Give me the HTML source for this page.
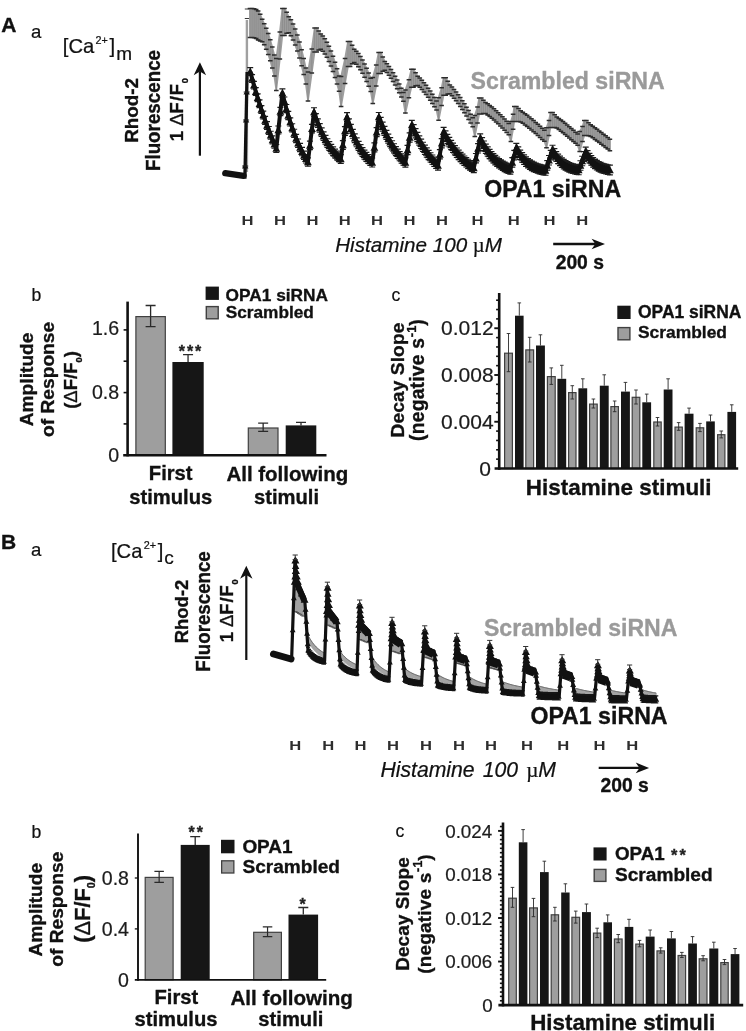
<!DOCTYPE html>
<html lang="en"><head><meta charset="utf-8"><title>Figure</title>
<style>html,body{margin:0;padding:0;background:#fff}svg{display:block;font-family:'Liberation Sans', sans-serif;filter:blur(0.62px)}</style>
</head><body>
<svg width="746" height="1031" viewBox="0 0 746 1031">
<rect width="746" height="1031" fill="#fff"/>
<g id="panelA">
<path d="M246.9 172V20" stroke="#a0a0a0" stroke-width="2.4" fill="none"/>
<path d="M244.8 18.5H249.4 M244.8 9H250" stroke="#3a3a3a" stroke-width="1.2" fill="none"/>
<polygon points="250,8.5 252.1,8.5 254.12,8.72 256.13,9.5 258.15,10.94 260.17,14.26 262.18,19.19 264.2,23.71 266.22,28.23 268.23,33.61 270.25,39.85 272.27,46.98 274.28,55.03 276.3,58.5 279.85,32.12 282.4,8.5 284.5,8.5 286.64,12.29 288.77,16.75 290.91,19.83 293.05,23.93 295.18,29 297.32,35.02 299.45,41.95 301.59,49.78 303.73,58.5 305.86,68.07 308,72 311.8,48.92 314.6,28 316.7,28 318.73,30.88 320.77,34.11 322.8,36.1 324.83,38.79 326.87,42.16 328.9,46.2 330.93,50.89 332.97,56.24 335,62.21 337.03,68.82 339.07,76.05 341.1,76.5 345.05,58.38 348,41.5 350.1,41.5 352.16,45.29 354.23,49.25 356.29,51.16 358.35,53.62 360.42,56.58 362.48,60.04 364.55,63.95 366.61,68.31 368.67,73.09 370.74,78.29 372.8,77.5 376.2,64.88 378.6,52.5 380.7,52.5 382.76,56.9 384.82,61.47 386.88,63.76 388.93,66.43 390.99,69.42 393.05,72.69 395.11,76.22 397.17,79.99 399.23,83.97 401.28,88.16 403.34,92.54 405.4,90 408.9,79.74 411.4,69.3 413.5,69.3 415.59,72.67 417.68,76.2 419.78,78.11 421.87,80.29 423.96,82.71 426.05,85.33 428.14,88.14 430.23,91.1 432.33,94.22 434.42,97.48 436.51,100.88 438.6,97.7 441.6,87.83 443.6,77.7 445.7,77.7 447.78,81.24 449.86,84.96 451.94,87.04 454.01,89.38 456.09,91.94 458.17,94.68 460.25,97.6 462.33,100.66 464.41,103.85 466.49,107.18 468.56,110.62 470.64,114.18 472.72,117.84 474.8,115.5 477.5,107 479.2,98 481.3,98 483.41,100.14 485.53,102.42 487.64,103.83 489.76,105.38 491.87,107.06 493.99,108.84 496.1,110.72 498.21,112.67 500.33,114.7 502.44,116.8 504.56,118.96 506.67,121.19 508.79,123.47 510.9,121.4 513.1,114.33 514.3,106.5 516.4,106.5 518.55,108.55 520.7,110.7 522.85,112.15 525,113.69 527.15,115.32 529.3,117.01 531.45,118.76 533.6,120.56 535.75,122.41 537.9,124.29 540.05,126.22 542.2,128.18 544.35,130.17 546.5,127.8 549,120.51 550.5,112.5 552.6,112.5 554.68,114.67 556.77,116.9 558.85,118.38 560.94,119.94 563.02,121.57 565.11,123.24 567.19,124.95 569.28,126.7 571.36,128.49 573.45,130.3 575.53,132.14 577.62,134.01 579.7,131.5 582.5,126.57 584.3,120.5 586.4,120.5 588.54,122.65 590.67,124.81 592.81,126.27 594.95,127.79 597.08,129.34 599.22,130.93 601.35,132.54 603.49,134.18 605.63,135.83 607.76,137.51 609.9,139.2 609.9,150.8 607.76,149.11 605.63,147.43 603.49,145.78 601.35,144.14 599.22,142.53 597.08,140.94 594.95,139.39 592.81,137.87 590.67,136.41 588.54,135.78 586.4,135.5 584.3,135.5 582.5,141.57 579.7,151.5 577.62,145.21 575.53,143.34 573.45,141.5 571.36,139.69 569.28,137.9 567.19,136.15 565.11,134.44 563.02,132.77 560.94,131.14 558.85,129.58 556.77,128.1 554.68,127.58 552.6,127.5 550.5,127.5 549,135.51 546.5,147.8 544.35,141.37 542.2,139.38 540.05,137.42 537.9,135.49 535.75,133.61 533.6,131.76 531.45,129.96 529.3,128.21 527.15,126.52 525,124.89 522.85,123.35 520.7,121.9 518.55,121.46 516.4,121.5 514.3,121.5 513.1,129.33 510.9,141.4 508.79,134.67 506.67,132.39 504.56,130.16 502.44,128 500.33,125.9 498.21,123.87 496.1,121.92 493.99,120.04 491.87,118.26 489.76,116.58 487.64,115.03 485.53,113.62 483.41,113.5 481.3,114 479.2,114 477.5,123 474.8,136.5 472.72,126.64 470.64,122.98 468.56,119.42 466.49,115.98 464.41,112.65 462.33,109.46 460.25,106.4 458.17,103.48 456.09,100.74 454.01,98.18 451.94,95.84 449.86,93.76 447.78,94 445.7,95.3 443.6,95.3 441.6,105.42 438.6,120.3 436.51,110.08 434.42,106.68 432.33,103.42 430.23,100.3 428.14,97.34 426.05,94.53 423.96,91.91 421.87,89.49 419.78,87.31 417.68,85.4 415.59,85.83 413.5,87.3 411.4,87.3 408.9,97.74 405.4,113 403.34,101.34 401.28,96.96 399.23,92.77 397.17,88.79 395.11,85.02 393.05,81.49 390.99,78.22 388.93,75.23 386.88,72.56 384.82,70.27 382.76,71.19 380.7,73.5 378.6,73.5 376.2,85.88 372.8,103.5 370.74,91.49 368.67,86.29 366.61,81.51 364.55,77.15 362.48,73.24 360.42,69.78 358.35,66.82 356.29,64.36 354.23,62.45 352.16,63.8 350.1,66.5 348,66.5 345.05,83.38 341.1,106.5 339.07,91.25 337.03,84.02 335,77.41 332.97,71.44 330.93,66.09 328.9,61.4 326.87,57.36 324.83,53.99 322.8,51.3 320.77,49.31 318.73,50.04 316.7,52 314.6,52 311.8,72.92 308,101 305.86,84.07 303.73,74.5 301.59,65.78 299.45,57.95 297.32,51.02 295.18,45 293.05,39.93 290.91,35.83 288.77,32.75 286.64,33.24 284.5,35.5 282.4,35.5 279.85,59.12 276.3,90.5 274.28,76.03 272.27,67.98 270.25,60.85 268.23,54.61 266.22,49.23 264.2,44.71 262.18,41.82 260.17,40.93 258.15,39.94 256.13,38.5 254.12,37.72 252.1,37.5 250,37.5" fill="#9e9e9e" stroke="#9e9e9e" stroke-width="1.6" stroke-linejoin="round"/>
<path d="M250 8.5V37.5M252.1 8.5V37.5M254.12 8.72V37.72M256.13 9.5V38.5M258.15 10.94V39.94M260.17 14.26V40.93M262.18 19.19V41.82M264.2 23.71V44.71M266.22 28.23V49.23M268.23 33.61V54.61M270.25 39.85V60.85M272.27 46.98V67.98M274.28 55.03V76.03M276.3 58.5V90.5M279.85 32.12V59.12M282.4 8.5V35.5M284.5 8.5V35.5M286.64 12.29V33.24M288.77 16.75V32.75M290.91 19.83V35.83M293.05 23.93V39.93M295.18 29V45M297.32 35.02V51.02M299.45 41.95V57.95M301.59 49.78V65.78M303.73 58.5V74.5M305.86 68.07V84.07M308 72V101M311.8 48.92V72.92M314.6 28V52M316.7 28V52M318.73 30.88V50.04M320.77 34.11V49.31M322.8 36.1V51.3M324.83 38.79V53.99M326.87 42.16V57.36M328.9 46.2V61.4M330.93 50.89V66.09M332.97 56.24V71.44M335 62.21V77.41M337.03 68.82V84.02M339.07 76.05V91.25M341.1 76.5V106.5M345.05 58.38V83.38M348 41.5V66.5M350.1 41.5V66.5M352.16 45.29V63.8M354.23 49.25V62.45M356.29 51.16V64.36M358.35 53.62V66.82M360.42 56.58V69.78M362.48 60.04V73.24M364.55 63.95V77.15M366.61 68.31V81.51M368.67 73.09V86.29M370.74 78.29V91.49M372.8 77.5V103.5M376.2 64.88V85.88M378.6 52.5V73.5M380.7 52.5V73.5M382.76 56.9V71.19M384.82 61.47V70.27M386.88 63.76V72.56M388.93 66.43V75.23M390.99 69.42V78.22M393.05 72.69V81.49M395.11 76.22V85.02M397.17 79.99V88.79M399.23 83.97V92.77M401.28 88.16V96.96M403.34 92.54V101.34M405.4 90V113M408.9 79.74V97.74M411.4 69.3V87.3M413.5 69.3V87.3M415.59 72.67V85.83M417.68 76.2V85.4M419.78 78.11V87.31M421.87 80.29V89.49M423.96 82.71V91.91M426.05 85.33V94.53M428.14 88.14V97.34M430.23 91.1V100.3M432.33 94.22V103.42M434.42 97.48V106.68M436.51 100.88V110.08M438.6 97.7V120.3M441.6 87.83V105.42M443.6 77.7V95.3M445.7 77.7V95.3M447.78 81.24V94M449.86 84.96V93.76M451.94 87.04V95.84M454.01 89.38V98.18M456.09 91.94V100.74M458.17 94.68V103.48M460.25 97.6V106.4M462.33 100.66V109.46M464.41 103.85V112.65M466.49 107.18V115.98M468.56 110.62V119.42M470.64 114.18V122.98M472.72 117.84V126.64M474.8 115.5V136.5M477.5 107V123M479.2 98V114M481.3 98V114M483.41 100.14V113.5M485.53 102.42V113.62M487.64 103.83V115.03M489.76 105.38V116.58M491.87 107.06V118.26M493.99 108.84V120.04M496.1 110.72V121.92M498.21 112.67V123.87M500.33 114.7V125.9M502.44 116.8V128M504.56 118.96V130.16M506.67 121.19V132.39M508.79 123.47V134.67M510.9 121.4V141.4M513.1 114.33V129.33M514.3 106.5V121.5M516.4 106.5V121.5M518.55 108.55V121.46M520.7 110.7V121.9M522.85 112.15V123.35M525 113.69V124.89M527.15 115.32V126.52M529.3 117.01V128.21M531.45 118.76V129.96M533.6 120.56V131.76M535.75 122.41V133.61M537.9 124.29V135.49M540.05 126.22V137.42M542.2 128.18V139.38M544.35 130.17V141.37M546.5 127.8V147.8M549 120.51V135.51M550.5 112.5V127.5M552.6 112.5V127.5M554.68 114.67V127.58M556.77 116.9V128.1M558.85 118.38V129.58M560.94 119.94V131.14M563.02 121.57V132.77M565.11 123.24V134.44M567.19 124.95V136.15M569.28 126.7V137.9M571.36 128.49V139.69M573.45 130.3V141.5M575.53 132.14V143.34M577.62 134.01V145.21M579.7 131.5V151.5M582.5 126.57V141.57M584.3 120.5V135.5M586.4 120.5V135.5M588.54 122.65V135.78M590.67 124.81V136.41M592.81 126.27V137.87M594.95 127.79V139.39M597.08 129.34V140.94M599.22 130.93V142.53M601.35 132.54V144.14M603.49 134.18V145.78M605.63 135.83V147.43M607.76 137.51V149.11M609.9 139.2V150.8" stroke="#8e8e8e" stroke-width="1.1" fill="none"/>
<path d="M247.7 8.5H252.3 M247.7 37.5H252.3M249.8 8.5H254.4 M249.8 37.5H254.4M251.82 8.72H256.42 M251.82 37.72H256.42M253.83 9.5H258.43 M253.83 38.5H258.43M255.85 10.94H260.45 M255.85 39.94H260.45M257.87 14.26H262.47 M257.87 40.93H262.47M259.88 19.19H264.48 M259.88 41.82H264.48M261.9 23.71H266.5 M261.9 44.71H266.5M263.92 28.23H268.52 M263.92 49.23H268.52M265.93 33.61H270.53 M265.93 54.61H270.53M267.95 39.85H272.55 M267.95 60.85H272.55M269.97 46.98H274.57 M269.97 67.98H274.57M271.98 55.03H276.58 M271.98 76.03H276.58M274 58.5H278.6 M274 90.5H278.6M277.55 32.12H282.15 M277.55 59.12H282.15M280.1 8.5H284.7 M280.1 35.5H284.7M282.2 8.5H286.8 M282.2 35.5H286.8M284.34 12.29H288.94 M284.34 33.24H288.94M286.47 16.75H291.07 M286.47 32.75H291.07M288.61 19.83H293.21 M288.61 35.83H293.21M290.75 23.93H295.35 M290.75 39.93H295.35M292.88 29H297.48 M292.88 45H297.48M295.02 35.02H299.62 M295.02 51.02H299.62M297.15 41.95H301.75 M297.15 57.95H301.75M299.29 49.78H303.89 M299.29 65.78H303.89M301.43 58.5H306.03 M301.43 74.5H306.03M303.56 68.07H308.16 M303.56 84.07H308.16M305.7 72H310.3 M305.7 101H310.3M309.5 48.92H314.1 M309.5 72.92H314.1M312.3 28H316.9 M312.3 52H316.9M314.4 28H319 M314.4 52H319M316.43 30.88H321.03 M316.43 50.04H321.03M318.47 34.11H323.07 M318.47 49.31H323.07M320.5 36.1H325.1 M320.5 51.3H325.1M322.53 38.79H327.13 M322.53 53.99H327.13M324.57 42.16H329.17 M324.57 57.36H329.17M326.6 46.2H331.2 M326.6 61.4H331.2M328.63 50.89H333.23 M328.63 66.09H333.23M330.67 56.24H335.27 M330.67 71.44H335.27M332.7 62.21H337.3 M332.7 77.41H337.3M334.73 68.82H339.33 M334.73 84.02H339.33M336.77 76.05H341.37 M336.77 91.25H341.37M338.8 76.5H343.4 M338.8 106.5H343.4M342.75 58.38H347.35 M342.75 83.38H347.35M345.7 41.5H350.3 M345.7 66.5H350.3M347.8 41.5H352.4 M347.8 66.5H352.4M349.86 45.29H354.46 M349.86 63.8H354.46M351.93 49.25H356.53 M351.93 62.45H356.53M353.99 51.16H358.59 M353.99 64.36H358.59M356.05 53.62H360.65 M356.05 66.82H360.65M358.12 56.58H362.72 M358.12 69.78H362.72M360.18 60.04H364.78 M360.18 73.24H364.78M362.25 63.95H366.85 M362.25 77.15H366.85M364.31 68.31H368.91 M364.31 81.51H368.91M366.37 73.09H370.97 M366.37 86.29H370.97M368.44 78.29H373.04 M368.44 91.49H373.04M370.5 77.5H375.1 M370.5 103.5H375.1M373.9 64.88H378.5 M373.9 85.88H378.5M376.3 52.5H380.9 M376.3 73.5H380.9M378.4 52.5H383 M378.4 73.5H383M380.46 56.9H385.06 M380.46 71.19H385.06M382.52 61.47H387.12 M382.52 70.27H387.12M384.58 63.76H389.18 M384.58 72.56H389.18M386.63 66.43H391.23 M386.63 75.23H391.23M388.69 69.42H393.29 M388.69 78.22H393.29M390.75 72.69H395.35 M390.75 81.49H395.35M392.81 76.22H397.41 M392.81 85.02H397.41M394.87 79.99H399.47 M394.87 88.79H399.47M396.93 83.97H401.53 M396.93 92.77H401.53M398.98 88.16H403.58 M398.98 96.96H403.58M401.04 92.54H405.64 M401.04 101.34H405.64M403.1 90H407.7 M403.1 113H407.7M406.6 79.74H411.2 M406.6 97.74H411.2M409.1 69.3H413.7 M409.1 87.3H413.7M411.2 69.3H415.8 M411.2 87.3H415.8M413.29 72.67H417.89 M413.29 85.83H417.89M415.38 76.2H419.98 M415.38 85.4H419.98M417.48 78.11H422.08 M417.48 87.31H422.08M419.57 80.29H424.17 M419.57 89.49H424.17M421.66 82.71H426.26 M421.66 91.91H426.26M423.75 85.33H428.35 M423.75 94.53H428.35M425.84 88.14H430.44 M425.84 97.34H430.44M427.93 91.1H432.53 M427.93 100.3H432.53M430.03 94.22H434.63 M430.03 103.42H434.63M432.12 97.48H436.72 M432.12 106.68H436.72M434.21 100.88H438.81 M434.21 110.08H438.81M436.3 97.7H440.9 M436.3 120.3H440.9M439.3 87.83H443.9 M439.3 105.42H443.9M441.3 77.7H445.9 M441.3 95.3H445.9M443.4 77.7H448 M443.4 95.3H448M445.48 81.24H450.08 M445.48 94H450.08M447.56 84.96H452.16 M447.56 93.76H452.16M449.64 87.04H454.24 M449.64 95.84H454.24M451.71 89.38H456.31 M451.71 98.18H456.31M453.79 91.94H458.39 M453.79 100.74H458.39M455.87 94.68H460.47 M455.87 103.48H460.47M457.95 97.6H462.55 M457.95 106.4H462.55M460.03 100.66H464.63 M460.03 109.46H464.63M462.11 103.85H466.71 M462.11 112.65H466.71M464.19 107.18H468.79 M464.19 115.98H468.79M466.26 110.62H470.86 M466.26 119.42H470.86M468.34 114.18H472.94 M468.34 122.98H472.94M470.42 117.84H475.02 M470.42 126.64H475.02M472.5 115.5H477.1 M472.5 136.5H477.1M475.2 107H479.8 M475.2 123H479.8M476.9 98H481.5 M476.9 114H481.5M479 98H483.6 M479 114H483.6M481.11 100.14H485.71 M481.11 113.5H485.71M483.23 102.42H487.83 M483.23 113.62H487.83M485.34 103.83H489.94 M485.34 115.03H489.94M487.46 105.38H492.06 M487.46 116.58H492.06M489.57 107.06H494.17 M489.57 118.26H494.17M491.69 108.84H496.29 M491.69 120.04H496.29M493.8 110.72H498.4 M493.8 121.92H498.4M495.91 112.67H500.51 M495.91 123.87H500.51M498.03 114.7H502.63 M498.03 125.9H502.63M500.14 116.8H504.74 M500.14 128H504.74M502.26 118.96H506.86 M502.26 130.16H506.86M504.37 121.19H508.97 M504.37 132.39H508.97M506.49 123.47H511.09 M506.49 134.67H511.09M508.6 121.4H513.2 M508.6 141.4H513.2M510.8 114.33H515.4 M510.8 129.33H515.4M512 106.5H516.6 M512 121.5H516.6M514.1 106.5H518.7 M514.1 121.5H518.7M516.25 108.55H520.85 M516.25 121.46H520.85M518.4 110.7H523 M518.4 121.9H523M520.55 112.15H525.15 M520.55 123.35H525.15M522.7 113.69H527.3 M522.7 124.89H527.3M524.85 115.32H529.45 M524.85 126.52H529.45M527 117.01H531.6 M527 128.21H531.6M529.15 118.76H533.75 M529.15 129.96H533.75M531.3 120.56H535.9 M531.3 131.76H535.9M533.45 122.41H538.05 M533.45 133.61H538.05M535.6 124.29H540.2 M535.6 135.49H540.2M537.75 126.22H542.35 M537.75 137.42H542.35M539.9 128.18H544.5 M539.9 139.38H544.5M542.05 130.17H546.65 M542.05 141.37H546.65M544.2 127.8H548.8 M544.2 147.8H548.8M546.7 120.51H551.3 M546.7 135.51H551.3M548.2 112.5H552.8 M548.2 127.5H552.8M550.3 112.5H554.9 M550.3 127.5H554.9M552.38 114.67H556.98 M552.38 127.58H556.98M554.47 116.9H559.07 M554.47 128.1H559.07M556.55 118.38H561.15 M556.55 129.58H561.15M558.64 119.94H563.24 M558.64 131.14H563.24M560.72 121.57H565.32 M560.72 132.77H565.32M562.81 123.24H567.41 M562.81 134.44H567.41M564.89 124.95H569.49 M564.89 136.15H569.49M566.98 126.7H571.58 M566.98 137.9H571.58M569.06 128.49H573.66 M569.06 139.69H573.66M571.15 130.3H575.75 M571.15 141.5H575.75M573.23 132.14H577.83 M573.23 143.34H577.83M575.32 134.01H579.92 M575.32 145.21H579.92M577.4 131.5H582 M577.4 151.5H582M580.2 126.57H584.8 M580.2 141.57H584.8M582 120.5H586.6 M582 135.5H586.6M584.1 120.5H588.7 M584.1 135.5H588.7M586.24 122.65H590.84 M586.24 135.78H590.84M588.37 124.81H592.97 M588.37 136.41H592.97M590.51 126.27H595.11 M590.51 137.87H595.11M592.65 127.79H597.25 M592.65 139.39H597.25M594.78 129.34H599.38 M594.78 140.94H599.38M596.92 130.93H601.52 M596.92 142.53H601.52M599.05 132.54H603.65 M599.05 144.14H603.65M601.19 134.18H605.79 M601.19 145.78H605.79M603.33 135.83H607.93 M603.33 147.43H607.93M605.46 137.51H610.06 M605.46 149.11H610.06M607.6 139.2H612.2 M607.6 150.8H612.2" stroke="#2c2c2c" stroke-width="1.5" fill="none"/>
<path d="M225.2 173.1L243.6 175.9" stroke="#111" stroke-width="6.2" fill="none" stroke-linecap="round"/>
<path d="M244.9 178.6L247.1 72" stroke="#111" stroke-width="3.3" fill="none"/>
<polygon points="250.2,67.67 252.06,74.6 253.93,81.28 255.79,87.7 257.66,93.89 259.52,99.85 261.39,105.59 263.25,111.12 265.11,116.44 266.98,121.57 268.84,126.51 270.71,131.26 272.57,135.84 274.44,140.25 276.3,144.5 278.33,125.98 280.37,107.47 282.4,88.95 284.36,97.02 286.32,104.49 288.28,111.41 290.25,117.81 292.21,123.74 294.17,129.23 296.13,134.31 298.09,139.01 300.05,143.37 302.02,147.4 303.98,151.13 305.94,154.58 307.9,157.78 309.93,141.1 311.97,124.42 314,107.74 315.91,113.53 317.83,118.78 319.74,123.56 321.66,127.91 323.57,131.87 325.49,135.46 327.4,138.73 329.31,141.7 331.23,144.4 333.14,146.85 335.06,149.08 336.97,151.11 338.89,152.95 340.8,154.62 342.87,140.61 344.93,126.61 347,112.6 348.94,118.82 350.88,124.39 352.82,129.38 354.75,133.85 356.69,137.86 358.63,141.45 360.57,144.66 362.51,147.54 364.45,150.12 366.38,152.43 368.32,154.49 370.26,156.35 372.2,158 374.4,142.83 376.6,127.65 378.8,112.48 380.7,117.43 382.6,122.05 384.5,126.34 386.4,130.34 388.3,134.06 390.2,137.53 392.1,140.75 394,143.75 395.9,146.55 397.8,149.15 399.7,151.57 401.6,153.83 403.5,155.94 405.4,157.89 407.53,145.39 409.67,132.89 411.8,120.39 413.67,124.65 415.54,128.65 417.41,132.39 419.29,135.9 421.16,139.18 423.03,142.26 424.9,145.15 426.77,147.86 428.64,150.39 430.51,152.77 432.39,154.99 434.26,157.08 436.13,159.03 438,160.86 439.87,149.7 441.73,138.53 443.6,127.36 445.49,130.96 447.38,134.31 449.26,137.45 451.15,140.37 453.04,143.09 454.93,145.64 456.81,148.01 458.7,150.22 460.59,152.28 462.48,154.21 464.36,156 466.25,157.68 468.14,159.24 470.03,160.7 471.91,162.06 473.8,163.33 475.93,153.49 478.07,143.66 480.2,133.82 482.08,137.6 483.96,141.01 485.84,144.08 487.73,146.84 489.61,149.33 491.49,151.57 493.37,153.6 495.25,155.42 497.13,157.06 499.01,158.54 500.89,159.87 502.77,161.07 504.66,162.15 506.54,163.13 508.42,164 510.3,164.79 512.3,157.63 514.3,150.46 516.3,143.29 518.25,146.93 520.19,150.03 522.14,152.68 524.09,154.93 526.03,156.86 527.98,158.51 529.93,159.91 531.87,161.1 533.82,162.12 535.77,162.99 537.71,163.74 539.66,164.37 541.61,164.91 543.55,165.37 545.5,165.76 547.25,160.63 549,155.51 550.75,150.38 552.5,145.25 554.37,148.7 556.24,151.61 558.11,154.06 559.99,156.12 561.86,157.87 563.73,159.34 565.6,160.58 567.47,161.63 569.34,162.51 571.21,163.25 573.09,163.88 574.96,164.41 576.83,164.85 578.7,165.23 580.45,160.73 582.2,156.23 583.95,151.72 585.7,147.22 587.56,150.54 589.42,153.3 591.28,155.6 593.15,157.52 595.01,159.11 596.87,160.44 598.73,161.54 600.59,162.46 602.45,163.23 604.32,163.86 606.18,164.39 608.04,164.83 609.9,165.2 609.9,174.8 608.04,174.43 606.18,173.99 604.32,173.45 602.45,172.81 600.59,172.04 598.73,171.12 596.87,170.01 595.01,168.68 593.15,167.08 591.28,165.17 589.42,162.86 587.56,160.1 585.7,156.78 583.95,161.28 582.2,165.77 580.45,170.27 578.7,174.77 576.83,174.39 574.96,173.94 573.09,173.41 571.21,172.78 569.34,172.03 567.47,171.14 565.6,170.09 563.73,168.85 561.86,167.38 559.99,165.63 558.11,163.56 556.24,161.1 554.37,158.19 552.5,154.75 550.75,159.87 549,164.99 547.25,170.12 545.5,175.24 543.55,174.84 541.61,174.38 539.66,173.83 537.71,173.2 535.77,172.45 533.82,171.58 531.87,170.55 529.93,169.35 527.98,167.95 526.03,166.3 524.09,164.37 522.14,162.11 520.19,159.46 518.25,156.35 516.3,152.71 514.3,159.88 512.3,167.04 510.3,174.21 508.42,173.41 506.54,172.53 504.66,171.55 502.77,170.47 500.89,169.26 499.01,167.93 497.13,166.44 495.25,164.8 493.37,162.97 491.49,160.95 489.61,158.7 487.73,156.21 485.84,153.44 483.96,150.37 482.08,146.96 480.2,143.18 478.07,153.01 475.93,162.84 473.8,172.67 471.91,171.4 470.03,170.03 468.14,168.57 466.25,167.01 464.36,165.33 462.48,163.53 460.59,161.6 458.7,159.53 456.81,157.32 454.93,154.94 453.04,152.39 451.15,149.66 449.26,146.74 447.38,143.6 445.49,140.24 443.6,136.64 441.73,147.81 439.87,158.97 438,170.14 436.13,168.3 434.26,166.34 432.39,164.25 430.51,162.02 428.64,159.65 426.77,157.11 424.9,154.4 423.03,151.51 421.16,148.42 419.29,145.13 417.41,141.62 415.54,137.88 413.67,133.88 411.8,129.61 409.67,142.11 407.53,154.61 405.4,167.11 403.5,165.14 401.6,163.04 399.7,160.77 397.8,158.33 395.9,155.72 394,152.91 392.1,149.89 390.2,146.65 388.3,143.17 386.4,139.44 384.5,135.43 382.6,131.12 380.7,126.49 378.8,121.52 376.6,136.68 374.4,151.84 372.2,167 370.26,165.32 368.32,163.46 366.38,161.37 364.45,159.05 362.51,156.46 360.57,153.56 358.63,150.34 356.69,146.73 354.75,142.71 352.82,138.23 350.88,133.22 348.94,127.64 347,121.4 344.93,135.39 342.87,149.39 340.8,163.38 338.89,161.69 336.97,159.83 335.06,157.79 333.14,155.55 331.23,153.08 329.31,150.37 327.4,147.38 325.49,144.1 323.57,140.49 321.66,136.52 319.74,132.16 317.83,127.35 315.91,122.07 314,116.26 311.97,132.91 309.93,149.57 307.9,166.22 305.94,162.99 303.98,159.51 302.02,155.76 300.05,151.7 298.09,147.32 296.13,142.59 294.17,137.48 292.21,131.96 290.25,126.01 288.28,119.58 286.32,112.64 284.36,105.14 282.4,97.05 280.37,115.53 278.33,134.02 276.3,152.5 274.44,148.23 272.57,143.8 270.71,139.2 268.84,134.42 266.98,129.45 265.11,124.3 263.25,118.95 261.39,113.4 259.52,107.63 257.66,101.65 255.79,95.43 253.93,88.98 252.06,82.28 250.2,75.33" fill="#161616" stroke="#161616" stroke-width="0.8" stroke-linejoin="round"/>
<path d="M247.2 67.67H253.2 M247.2 75.33H253.2M249.06 74.6H255.06 M249.06 82.28H255.06M250.93 81.28H256.93 M250.93 88.98H256.93M252.79 87.7H258.79 M252.79 95.43H258.79M254.66 93.89H260.66 M254.66 101.65H260.66M256.52 99.85H262.52 M256.52 107.63H262.52M258.39 105.59H264.39 M258.39 113.4H264.39M260.25 111.12H266.25 M260.25 118.95H266.25M262.11 116.44H268.11 M262.11 124.3H268.11M263.98 121.57H269.98 M263.98 129.45H269.98M265.84 126.51H271.84 M265.84 134.42H271.84M267.71 131.26H273.71 M267.71 139.2H273.71M269.57 135.84H275.57 M269.57 143.8H275.57M271.44 140.25H277.44 M271.44 148.23H277.44M273.3 144.5H279.3 M273.3 152.5H279.3M275.33 125.98H281.33 M275.33 134.02H281.33M277.37 107.47H283.37 M277.37 115.53H283.37M279.4 88.95H285.4 M279.4 97.05H285.4M281.36 97.02H287.36 M281.36 105.14H287.36M283.32 104.49H289.32 M283.32 112.64H289.32M285.28 111.41H291.28 M285.28 119.58H291.28M287.25 117.81H293.25 M287.25 126.01H293.25M289.21 123.74H295.21 M289.21 131.96H295.21M291.17 129.23H297.17 M291.17 137.48H297.17M293.13 134.31H299.13 M293.13 142.59H299.13M295.09 139.01H301.09 M295.09 147.32H301.09M297.05 143.37H303.05 M297.05 151.7H303.05M299.02 147.4H305.02 M299.02 155.76H305.02M300.98 151.13H306.98 M300.98 159.51H306.98M302.94 154.58H308.94 M302.94 162.99H308.94M304.9 157.78H310.9 M304.9 166.22H310.9M306.93 141.1H312.93 M306.93 149.57H312.93M308.97 124.42H314.97 M308.97 132.91H314.97M311 107.74H317 M311 116.26H317M312.91 113.53H318.91 M312.91 122.07H318.91M314.83 118.78H320.83 M314.83 127.35H320.83M316.74 123.56H322.74 M316.74 132.16H322.74M318.66 127.91H324.66 M318.66 136.52H324.66M320.57 131.87H326.57 M320.57 140.49H326.57M322.49 135.46H328.49 M322.49 144.1H328.49M324.4 138.73H330.4 M324.4 147.38H330.4M326.31 141.7H332.31 M326.31 150.37H332.31M328.23 144.4H334.23 M328.23 153.08H334.23M330.14 146.85H336.14 M330.14 155.55H336.14M332.06 149.08H338.06 M332.06 157.79H338.06M333.97 151.11H339.97 M333.97 159.83H339.97M335.89 152.95H341.89 M335.89 161.69H341.89M337.8 154.62H343.8 M337.8 163.38H343.8M339.87 140.61H345.87 M339.87 149.39H345.87M341.93 126.61H347.93 M341.93 135.39H347.93M344 112.6H350 M344 121.4H350M345.94 118.82H351.94 M345.94 127.64H351.94M347.88 124.39H353.88 M347.88 133.22H353.88M349.82 129.38H355.82 M349.82 138.23H355.82M351.75 133.85H357.75 M351.75 142.71H357.75M353.69 137.86H359.69 M353.69 146.73H359.69M355.63 141.45H361.63 M355.63 150.34H361.63M357.57 144.66H363.57 M357.57 153.56H363.57M359.51 147.54H365.51 M359.51 156.46H365.51M361.45 150.12H367.45 M361.45 159.05H367.45M363.38 152.43H369.38 M363.38 161.37H369.38M365.32 154.49H371.32 M365.32 163.46H371.32M367.26 156.35H373.26 M367.26 165.32H373.26M369.2 158H375.2 M369.2 167H375.2M371.4 142.83H377.4 M371.4 151.84H377.4M373.6 127.65H379.6 M373.6 136.68H379.6M375.8 112.48H381.8 M375.8 121.52H381.8M377.7 117.43H383.7 M377.7 126.49H383.7M379.6 122.05H385.6 M379.6 131.12H385.6M381.5 126.34H387.5 M381.5 135.43H387.5M383.4 130.34H389.4 M383.4 139.44H389.4M385.3 134.06H391.3 M385.3 143.17H391.3M387.2 137.53H393.2 M387.2 146.65H393.2M389.1 140.75H395.1 M389.1 149.89H395.1M391 143.75H397 M391 152.91H397M392.9 146.55H398.9 M392.9 155.72H398.9M394.8 149.15H400.8 M394.8 158.33H400.8M396.7 151.57H402.7 M396.7 160.77H402.7M398.6 153.83H404.6 M398.6 163.04H404.6M400.5 155.94H406.5 M400.5 165.14H406.5M402.4 157.89H408.4 M402.4 167.11H408.4M404.53 145.39H410.53 M404.53 154.61H410.53M406.67 132.89H412.67 M406.67 142.11H412.67M408.8 120.39H414.8 M408.8 129.61H414.8M410.67 124.65H416.67 M410.67 133.88H416.67M412.54 128.65H418.54 M412.54 137.88H418.54M414.41 132.39H420.41 M414.41 141.62H420.41M416.29 135.9H422.29 M416.29 145.13H422.29M418.16 139.18H424.16 M418.16 148.42H424.16M420.03 142.26H426.03 M420.03 151.51H426.03M421.9 145.15H427.9 M421.9 154.4H427.9M423.77 147.86H429.77 M423.77 157.11H429.77M425.64 150.39H431.64 M425.64 159.65H431.64M427.51 152.77H433.51 M427.51 162.02H433.51M429.39 154.99H435.39 M429.39 164.25H435.39M431.26 157.08H437.26 M431.26 166.34H437.26M433.13 159.03H439.13 M433.13 168.3H439.13M435 160.86H441 M435 170.14H441M436.87 149.7H442.87 M436.87 158.97H442.87M438.73 138.53H444.73 M438.73 147.81H444.73M440.6 127.36H446.6 M440.6 136.64H446.6M442.49 130.96H448.49 M442.49 140.24H448.49M444.38 134.31H450.38 M444.38 143.6H450.38M446.26 137.45H452.26 M446.26 146.74H452.26M448.15 140.37H454.15 M448.15 149.66H454.15M450.04 143.09H456.04 M450.04 152.39H456.04M451.93 145.64H457.93 M451.93 154.94H457.93M453.81 148.01H459.81 M453.81 157.32H459.81M455.7 150.22H461.7 M455.7 159.53H461.7M457.59 152.28H463.59 M457.59 161.6H463.59M459.48 154.21H465.48 M459.48 163.53H465.48M461.36 156H467.36 M461.36 165.33H467.36M463.25 157.68H469.25 M463.25 167.01H469.25M465.14 159.24H471.14 M465.14 168.57H471.14M467.03 160.7H473.03 M467.03 170.03H473.03M468.91 162.06H474.91 M468.91 171.4H474.91M470.8 163.33H476.8 M470.8 172.67H476.8M472.93 153.49H478.93 M472.93 162.84H478.93M475.07 143.66H481.07 M475.07 153.01H481.07M477.2 133.82H483.2 M477.2 143.18H483.2M479.08 137.6H485.08 M479.08 146.96H485.08M480.96 141.01H486.96 M480.96 150.37H486.96M482.84 144.08H488.84 M482.84 153.44H488.84M484.73 146.84H490.73 M484.73 156.21H490.73M486.61 149.33H492.61 M486.61 158.7H492.61M488.49 151.57H494.49 M488.49 160.95H494.49M490.37 153.6H496.37 M490.37 162.97H496.37M492.25 155.42H498.25 M492.25 164.8H498.25M494.13 157.06H500.13 M494.13 166.44H500.13M496.01 158.54H502.01 M496.01 167.93H502.01M497.89 159.87H503.89 M497.89 169.26H503.89M499.77 161.07H505.77 M499.77 170.47H505.77M501.66 162.15H507.66 M501.66 171.55H507.66M503.54 163.13H509.54 M503.54 172.53H509.54M505.42 164H511.42 M505.42 173.41H511.42M507.3 164.79H513.3 M507.3 174.21H513.3M509.3 157.63H515.3 M509.3 167.04H515.3M511.3 150.46H517.3 M511.3 159.88H517.3M513.3 143.29H519.3 M513.3 152.71H519.3M515.25 146.93H521.25 M515.25 156.35H521.25M517.19 150.03H523.19 M517.19 159.46H523.19M519.14 152.68H525.14 M519.14 162.11H525.14M521.09 154.93H527.09 M521.09 164.37H527.09M523.03 156.86H529.03 M523.03 166.3H529.03M524.98 158.51H530.98 M524.98 167.95H530.98M526.93 159.91H532.93 M526.93 169.35H532.93M528.87 161.1H534.87 M528.87 170.55H534.87M530.82 162.12H536.82 M530.82 171.58H536.82M532.77 162.99H538.77 M532.77 172.45H538.77M534.71 163.74H540.71 M534.71 173.2H540.71M536.66 164.37H542.66 M536.66 173.83H542.66M538.61 164.91H544.61 M538.61 174.38H544.61M540.55 165.37H546.55 M540.55 174.84H546.55M542.5 165.76H548.5 M542.5 175.24H548.5M544.25 160.63H550.25 M544.25 170.12H550.25M546 155.51H552 M546 164.99H552M547.75 150.38H553.75 M547.75 159.87H553.75M549.5 145.25H555.5 M549.5 154.75H555.5M551.37 148.7H557.37 M551.37 158.19H557.37M553.24 151.61H559.24 M553.24 161.1H559.24M555.11 154.06H561.11 M555.11 163.56H561.11M556.99 156.12H562.99 M556.99 165.63H562.99M558.86 157.87H564.86 M558.86 167.38H564.86M560.73 159.34H566.73 M560.73 168.85H566.73M562.6 160.58H568.6 M562.6 170.09H568.6M564.47 161.63H570.47 M564.47 171.14H570.47M566.34 162.51H572.34 M566.34 172.03H572.34M568.21 163.25H574.21 M568.21 172.78H574.21M570.09 163.88H576.09 M570.09 173.41H576.09M571.96 164.41H577.96 M571.96 173.94H577.96M573.83 164.85H579.83 M573.83 174.39H579.83M575.7 165.23H581.7 M575.7 174.77H581.7M577.45 160.73H583.45 M577.45 170.27H583.45M579.2 156.23H585.2 M579.2 165.77H585.2M580.95 151.72H586.95 M580.95 161.28H586.95M582.7 147.22H588.7 M582.7 156.78H588.7M584.56 150.54H590.56 M584.56 160.1H590.56M586.42 153.3H592.42 M586.42 162.86H592.42M588.28 155.6H594.28 M588.28 165.17H594.28M590.15 157.52H596.15 M590.15 167.08H596.15M592.01 159.11H598.01 M592.01 168.68H598.01M593.87 160.44H599.87 M593.87 170.01H599.87M595.73 161.54H601.73 M595.73 171.12H601.73M597.59 162.46H603.59 M597.59 172.04H603.59M599.45 163.23H605.45 M599.45 172.81H605.45M601.32 163.86H607.32 M601.32 173.45H607.32M603.18 164.39H609.18 M603.18 173.99H609.18M605.04 164.83H611.04 M605.04 174.43H611.04M606.9 165.2H612.9 M606.9 174.8H612.9" stroke="#1c1c1c" stroke-width="1.2" fill="none"/>
<path d="M250.2 71.5 L252.06 78.44 L253.93 85.13 L255.79 91.57 L257.66 97.77 L259.52 103.74 L261.39 109.5 L263.25 115.04 L265.11 120.37 L266.98 125.51 L268.84 130.46 L270.71 135.23 L272.57 139.82 L274.44 144.24 L276.3 148.5 L278.33 130 L280.37 111.5 L282.4 93 L284.36 101.08 L286.32 108.57 L288.28 115.49 L290.25 121.91 L292.21 127.85 L294.17 133.35 L296.13 138.45 L298.09 143.16 L300.05 147.53 L302.02 151.58 L303.98 155.32 L305.94 158.79 L307.9 162 L309.93 145.33 L311.97 128.67 L314 112 L315.91 117.8 L317.83 123.07 L319.74 127.86 L321.66 132.22 L323.57 136.18 L325.49 139.78 L327.4 143.06 L329.31 146.03 L331.23 148.74 L333.14 151.2 L335.06 153.44 L336.97 155.47 L338.89 157.32 L340.8 159 L342.87 145 L344.93 131 L347 117 L348.94 123.23 L350.88 128.81 L352.82 133.81 L354.75 138.28 L356.69 142.3 L358.63 145.89 L360.57 149.11 L362.51 152 L364.45 154.58 L366.38 156.9 L368.32 158.97 L370.26 160.83 L372.2 162.5 L374.4 147.33 L376.6 132.17 L378.8 117 L380.7 121.96 L382.6 126.58 L384.5 130.88 L386.4 134.89 L388.3 138.62 L390.2 142.09 L392.1 145.32 L394 148.33 L395.9 151.13 L397.8 153.74 L399.7 156.17 L401.6 158.43 L403.5 160.54 L405.4 162.5 L407.53 150 L409.67 137.5 L411.8 125 L413.67 129.26 L415.54 133.26 L417.41 137.01 L419.29 140.52 L421.16 143.8 L423.03 146.89 L424.9 149.77 L426.77 152.48 L428.64 155.02 L430.51 157.4 L432.39 159.62 L434.26 161.71 L436.13 163.67 L438 165.5 L439.87 154.33 L441.73 143.17 L443.6 132 L445.49 135.6 L447.38 138.96 L449.26 142.09 L451.15 145.02 L453.04 147.74 L454.93 150.29 L456.81 152.66 L458.7 154.88 L460.59 156.94 L462.48 158.87 L464.36 160.67 L466.25 162.34 L468.14 163.91 L470.03 165.37 L471.91 166.73 L473.8 168 L475.93 158.17 L478.07 148.33 L480.2 138.5 L482.08 142.28 L483.96 145.69 L485.84 148.76 L487.73 151.52 L489.61 154.02 L491.49 156.26 L493.37 158.29 L495.25 160.11 L497.13 161.75 L499.01 163.23 L500.89 164.57 L502.77 165.77 L504.66 166.85 L506.54 167.83 L508.42 168.71 L510.3 169.5 L512.3 162.33 L514.3 155.17 L516.3 148 L518.25 151.64 L520.19 154.74 L522.14 157.39 L524.09 159.65 L526.03 161.58 L527.98 163.23 L529.93 164.63 L531.87 165.83 L533.82 166.85 L535.77 167.72 L537.71 168.47 L539.66 169.1 L541.61 169.64 L543.55 170.11 L545.5 170.5 L547.25 165.38 L549 160.25 L550.75 155.12 L552.5 150 L554.37 153.45 L556.24 156.35 L558.11 158.81 L559.99 160.88 L561.86 162.62 L563.73 164.09 L565.6 165.34 L567.47 166.38 L569.34 167.27 L571.21 168.01 L573.09 168.64 L574.96 169.17 L576.83 169.62 L578.7 170 L580.45 165.5 L582.2 161 L583.95 156.5 L585.7 152 L587.56 155.32 L589.42 158.08 L591.28 160.38 L593.15 162.3 L595.01 163.9 L596.87 165.22 L598.73 166.33 L600.59 167.25 L602.45 168.02 L604.32 168.66 L606.18 169.19 L608.04 169.63 L609.9 170" stroke="#111" stroke-width="4" fill="none" stroke-linejoin="round"/>
<path d="M250.2 67.6L254.1 74.81L246.3 74.81ZM252.06 74.54L255.96 81.76L248.16 81.76ZM253.93 81.23L257.83 88.44L250.03 88.44ZM255.79 87.67L259.69 94.88L251.89 94.88ZM257.66 93.87L261.56 101.09L253.76 101.09ZM259.52 99.84L263.42 107.06L255.62 107.06ZM261.39 105.6L265.29 112.81L257.49 112.81ZM263.25 111.14L267.15 118.35L259.35 118.35ZM265.11 116.47L269.01 123.69L261.21 123.69ZM266.98 121.61L270.88 128.83L263.08 128.83ZM268.84 126.56L272.74 133.78L264.94 133.78ZM270.71 131.33L274.61 138.54L266.81 138.54ZM272.57 135.92L276.47 143.13L268.67 143.13ZM274.44 140.34L278.34 147.56L270.54 147.56ZM276.3 144.6L280.2 151.81L272.4 151.81ZM278.33 126.1L282.23 133.31L274.43 133.31ZM280.37 107.6L284.27 114.81L276.47 114.81ZM282.4 89.1L286.3 96.31L278.5 96.31ZM284.36 97.18L288.26 104.4L280.46 104.4ZM286.32 104.67L290.22 111.88L282.42 111.88ZM288.28 111.59L292.18 118.81L284.38 118.81ZM290.25 118.01L294.15 125.23L286.35 125.23ZM292.21 123.95L296.11 131.17L288.31 131.17ZM294.17 129.45L298.07 136.67L290.27 136.67ZM296.13 134.55L300.03 141.76L292.23 141.76ZM298.09 139.26L301.99 146.48L294.19 146.48ZM300.05 143.63L303.95 150.85L296.15 150.85ZM302.02 147.68L305.92 154.89L298.12 154.89ZM303.98 151.42L307.88 158.64L300.08 158.64ZM305.94 154.89L309.84 162.1L302.04 162.1ZM307.9 158.1L311.8 165.31L304 165.31ZM309.93 141.43L313.83 148.65L306.03 148.65ZM311.97 124.77L315.87 131.98L308.07 131.98ZM314 108.1L317.9 115.31L310.1 115.31ZM315.91 113.9L319.81 121.11L312.01 121.11ZM317.83 119.17L321.73 126.38L313.93 126.38ZM319.74 123.96L323.64 131.18L315.84 131.18ZM321.66 128.32L325.56 135.53L317.76 135.53ZM323.57 132.28L327.47 139.49L319.67 139.49ZM325.49 135.88L329.39 143.1L321.59 143.1ZM327.4 139.16L331.3 146.37L323.5 146.37ZM329.31 142.13L333.21 149.35L325.41 149.35ZM331.23 144.84L335.13 152.05L327.33 152.05ZM333.14 147.3L337.04 154.51L329.24 154.51ZM335.06 149.54L338.96 156.75L331.16 156.75ZM336.97 151.57L340.87 158.78L333.07 158.78ZM338.89 153.42L342.79 160.63L334.99 160.63ZM340.8 155.1L344.7 162.31L336.9 162.31ZM342.87 141.1L346.77 148.31L338.97 148.31ZM344.93 127.1L348.83 134.31L341.03 134.31ZM347 113.1L350.9 120.31L343.1 120.31ZM348.94 119.33L352.84 126.54L345.04 126.54ZM350.88 124.91L354.78 132.12L346.98 132.12ZM352.82 129.91L356.72 137.12L348.92 137.12ZM354.75 134.38L358.65 141.6L350.85 141.6ZM356.69 138.4L360.59 145.61L352.79 145.61ZM358.63 141.99L362.53 149.21L354.73 149.21ZM360.57 145.21L364.47 152.43L356.67 152.43ZM362.51 148.1L366.41 155.31L358.61 155.31ZM364.45 150.68L368.35 157.9L360.55 157.9ZM366.38 153L370.28 160.21L362.48 160.21ZM368.32 155.07L372.22 162.29L364.42 162.29ZM370.26 156.93L374.16 164.15L366.36 164.15ZM372.2 158.6L376.1 165.81L368.3 165.81ZM374.4 143.43L378.3 150.65L370.5 150.65ZM376.6 128.27L380.5 135.48L372.7 135.48ZM378.8 113.1L382.7 120.31L374.9 120.31ZM380.7 118.06L384.6 125.28L376.8 125.28ZM382.6 122.68L386.5 129.9L378.7 129.9ZM384.5 126.98L388.4 134.2L380.6 134.2ZM386.4 130.99L390.3 138.2L382.5 138.2ZM388.3 134.72L392.2 141.93L384.4 141.93ZM390.2 138.19L394.1 145.4L386.3 145.4ZM392.1 141.42L396 148.64L388.2 148.64ZM394 144.43L397.9 151.65L390.1 151.65ZM395.9 147.23L399.8 154.45L392 154.45ZM397.8 149.84L401.7 157.06L393.9 157.06ZM399.7 152.27L403.6 159.49L395.8 159.49ZM401.6 154.53L405.5 161.75L397.7 161.75ZM403.5 156.64L407.4 163.85L399.6 163.85ZM405.4 158.6L409.3 165.81L401.5 165.81ZM407.53 146.1L411.43 153.31L403.63 153.31ZM409.67 133.6L413.57 140.81L405.77 140.81ZM411.8 121.1L415.7 128.31L407.9 128.31ZM413.67 125.36L417.57 132.58L409.77 132.58ZM415.54 129.36L419.44 136.58L411.64 136.58ZM417.41 133.11L421.31 140.32L413.51 140.32ZM419.29 136.62L423.19 143.83L415.39 143.83ZM421.16 139.9L425.06 147.12L417.26 147.12ZM423.03 142.99L426.93 150.2L419.13 150.2ZM424.9 145.87L428.8 153.09L421 153.09ZM426.77 148.58L430.67 155.8L422.87 155.8ZM428.64 151.12L432.54 158.33L424.74 158.33ZM430.51 153.5L434.41 160.71L426.61 160.71ZM432.39 155.72L436.29 162.94L428.49 162.94ZM434.26 157.81L438.16 165.03L430.36 165.03ZM436.13 159.77L440.03 166.98L432.23 166.98ZM438 161.6L441.9 168.81L434.1 168.81ZM439.87 150.43L443.77 157.65L435.97 157.65ZM441.73 139.27L445.63 146.48L437.83 146.48ZM443.6 128.1L447.5 135.31L439.7 135.31ZM445.49 131.7L449.39 138.92L441.59 138.92ZM447.38 135.06L451.27 142.27L443.48 142.27ZM449.26 138.19L453.16 145.41L445.36 145.41ZM451.15 141.12L455.05 148.33L447.25 148.33ZM453.04 143.84L456.94 151.06L449.14 151.06ZM454.93 146.39L458.82 153.6L451.03 153.6ZM456.81 148.76L460.71 155.98L452.91 155.98ZM458.7 150.98L462.6 158.19L454.8 158.19ZM460.59 153.04L464.49 160.26L456.69 160.26ZM462.48 154.97L466.38 162.18L458.58 162.18ZM464.36 156.77L468.26 163.98L460.46 163.98ZM466.25 158.44L470.15 165.66L462.35 165.66ZM468.14 160.01L472.04 167.22L464.24 167.22ZM470.03 161.47L473.93 168.68L466.13 168.68ZM471.91 162.83L475.81 170.04L468.01 170.04ZM473.8 164.1L477.7 171.31L469.9 171.31ZM475.93 154.27L479.83 161.48L472.03 161.48ZM478.07 144.43L481.97 151.65L474.17 151.65ZM480.2 134.6L484.1 141.81L476.3 141.81ZM482.08 138.38L485.98 145.6L478.18 145.6ZM483.96 141.79L487.86 149L480.06 149ZM485.84 144.86L489.74 152.07L481.94 152.07ZM487.73 147.62L491.62 154.84L483.83 154.84ZM489.61 150.12L493.51 157.33L485.71 157.33ZM491.49 152.36L495.39 159.58L487.59 159.58ZM493.37 154.39L497.27 161.6L489.47 161.6ZM495.25 156.21L499.15 163.42L491.35 163.42ZM497.13 157.85L501.03 165.07L493.23 165.07ZM499.01 159.33L502.91 166.55L495.11 166.55ZM500.89 160.67L504.79 167.88L496.99 167.88ZM502.77 161.87L506.67 169.08L498.88 169.08ZM504.66 162.95L508.56 170.17L500.76 170.17ZM506.54 163.93L510.44 171.14L502.64 171.14ZM508.42 164.81L512.32 172.02L504.52 172.02ZM510.3 165.6L514.2 172.81L506.4 172.81ZM512.3 158.43L516.2 165.65L508.4 165.65ZM514.3 151.27L518.2 158.48L510.4 158.48ZM516.3 144.1L520.2 151.31L512.4 151.31ZM518.25 147.74L522.15 154.95L514.35 154.95ZM520.19 150.84L524.09 158.06L516.29 158.06ZM522.14 153.49L526.04 160.71L518.24 160.71ZM524.09 155.75L527.99 162.97L520.19 162.97ZM526.03 157.68L529.93 164.9L522.13 164.9ZM527.98 159.33L531.88 166.54L524.08 166.54ZM529.93 160.73L533.83 167.95L526.03 167.95ZM531.87 161.93L535.77 169.14L527.97 169.14ZM533.82 162.95L537.72 170.17L529.92 170.17ZM535.77 163.82L539.67 171.04L531.87 171.04ZM537.71 164.57L541.61 171.78L533.81 171.78ZM539.66 165.2L543.56 172.42L535.76 172.42ZM541.61 165.74L545.51 172.96L537.71 172.96ZM543.55 166.21L547.45 173.42L539.65 173.42ZM545.5 166.6L549.4 173.81L541.6 173.81ZM547.25 161.47L551.15 168.69L543.35 168.69ZM549 156.35L552.9 163.56L545.1 163.56ZM550.75 151.22L554.65 158.44L546.85 158.44ZM552.5 146.1L556.4 153.31L548.6 153.31ZM554.37 149.55L558.27 156.76L550.47 156.76ZM556.24 152.45L560.14 159.67L552.34 159.67ZM558.11 154.91L562.01 162.12L554.21 162.12ZM559.99 156.98L563.89 164.19L556.09 164.19ZM561.86 158.72L565.76 165.94L557.96 165.94ZM563.73 160.19L567.63 167.41L559.83 167.41ZM565.6 161.44L569.5 168.65L561.7 168.65ZM567.47 162.48L571.37 169.7L563.57 169.7ZM569.34 163.37L573.24 170.58L565.44 170.58ZM571.21 164.11L575.11 171.33L567.31 171.33ZM573.09 164.74L576.99 171.96L569.19 171.96ZM574.96 165.27L578.86 172.49L571.06 172.49ZM576.83 165.72L580.73 172.94L572.93 172.94ZM578.7 166.1L582.6 173.31L574.8 173.31ZM580.45 161.6L584.35 168.81L576.55 168.81ZM582.2 157.1L586.1 164.31L578.3 164.31ZM583.95 152.6L587.85 159.81L580.05 159.81ZM585.7 148.1L589.6 155.31L581.8 155.31ZM587.56 151.42L591.46 158.63L583.66 158.63ZM589.42 154.18L593.32 161.4L585.52 161.4ZM591.28 156.48L595.18 163.7L587.38 163.7ZM593.15 158.4L597.05 165.62L589.25 165.62ZM595.01 160L598.91 167.21L591.11 167.21ZM596.87 161.32L600.77 168.54L592.97 168.54ZM598.73 162.43L602.63 169.65L594.83 169.65ZM600.59 163.35L604.49 170.57L596.69 170.57ZM602.45 164.12L606.35 171.33L598.55 171.33ZM604.32 164.76L608.22 171.97L600.42 171.97ZM606.18 165.29L610.08 172.5L602.28 172.5ZM608.04 165.73L611.94 172.95L604.14 172.95ZM609.9 166.1L613.8 173.31L606 173.31Z" stroke="none" stroke-width="0" fill="#111"/>
<path d="M246.1 116.8L249.3 122.6L242.9 122.6Z" stroke="none" stroke-width="0" fill="#111"/>
<path d="M243.1 120H249.1" stroke="#222" stroke-width="1" fill="none"/>
<path d="M245.2 162.8L248.4 168.6L242 168.6Z" stroke="none" stroke-width="0" fill="#111"/>
<path d="M242.2 166H248.2" stroke="#222" stroke-width="1" fill="none"/>
<path d="M246.7 88.8L249.9 94.6L243.5 94.6Z" stroke="none" stroke-width="0" fill="#111"/>
<path d="M243.7 92H249.7" stroke="#222" stroke-width="1" fill="none"/>
<text x="1.2" y="32.3" font-size="21" font-weight="bold" font-style="normal" fill="#111" text-anchor="start" stroke="#111" stroke-width="0.34">A</text>
<text x="31" y="37.5" font-size="18.6" font-weight="normal" font-style="normal" fill="#111" text-anchor="start" stroke="#111" stroke-width="0.22">a</text>
<text x="62.8" y="53.2" font-size="20.2" font-weight="normal" font-style="normal" fill="#111" text-anchor="start" stroke="#111" stroke-width="0.22">[Ca<tspan font-size="10.8" dx="1.4" dy="-8.8">2+</tspan><tspan dx="1.6" dy="8.8">]</tspan><tspan font-size="19" dx="1" dy="7">m</tspan></text>
<text x="138" y="110.5" font-size="18.8" font-weight="bold" font-style="normal" fill="#111" text-anchor="middle" transform="rotate(-90 138 110.5)" stroke="#111" stroke-width="0.34">Rhod-2</text>
<text transform="translate(160.2 110.5) rotate(-90) scale(1 1.08)" font-size="18.8" font-weight="bold" fill="#111" stroke="#111" stroke-width="0.34" text-anchor="middle">Fluorescence</text>
<text x="183.2" y="109.6" font-size="18.4" font-weight="bold" font-style="normal" fill="#111" text-anchor="middle" transform="rotate(-90 183.2 109.6)" stroke="#111" stroke-width="0.34">1 <tspan font-weight="normal">Δ</tspan><tspan letter-spacing="0.9">F/F</tspan><tspan font-size="9.2" dy="4.97">0</tspan></text>
<line x1="199.9" y1="155.7" x2="199.9" y2="71.3" stroke="#111" stroke-width="2.2" stroke-linecap="butt"/>
<path d="M199.9 62.2L206.1 75.2L199.9 71.56L193.7 75.2Z" stroke="none" stroke-width="0" fill="#111"/>
<text transform="translate(247.4 225) scale(1.32 1)" font-size="12.6" font-weight="bold" fill="#2e2e2e" text-anchor="middle">H</text>
<text transform="translate(280.1 225) scale(1.32 1)" font-size="12.6" font-weight="bold" fill="#2e2e2e" text-anchor="middle">H</text>
<text transform="translate(312.6 225) scale(1.32 1)" font-size="12.6" font-weight="bold" fill="#2e2e2e" text-anchor="middle">H</text>
<text transform="translate(344.7 225) scale(1.32 1)" font-size="12.6" font-weight="bold" fill="#2e2e2e" text-anchor="middle">H</text>
<text transform="translate(376.9 225) scale(1.32 1)" font-size="12.6" font-weight="bold" fill="#2e2e2e" text-anchor="middle">H</text>
<text transform="translate(409.6 225) scale(1.32 1)" font-size="12.6" font-weight="bold" fill="#2e2e2e" text-anchor="middle">H</text>
<text transform="translate(442 225) scale(1.32 1)" font-size="12.6" font-weight="bold" fill="#2e2e2e" text-anchor="middle">H</text>
<text transform="translate(477.6 225) scale(1.32 1)" font-size="12.6" font-weight="bold" fill="#2e2e2e" text-anchor="middle">H</text>
<text transform="translate(513.8 225) scale(1.32 1)" font-size="12.6" font-weight="bold" fill="#2e2e2e" text-anchor="middle">H</text>
<text transform="translate(549.5 225) scale(1.32 1)" font-size="12.6" font-weight="bold" fill="#2e2e2e" text-anchor="middle">H</text>
<text transform="translate(582.2 225) scale(1.32 1)" font-size="12.6" font-weight="bold" fill="#2e2e2e" text-anchor="middle">H</text>
<text x="335.2" y="252.2" font-size="20.65" font-weight="normal" font-style="italic" fill="#111" text-anchor="start" stroke="#111" stroke-width="0.22">Histamine 100 <tspan font-style="normal" font-family="'Liberation Serif', serif">µ</tspan>M</text>
<line x1="553.2" y1="244" x2="595.62" y2="244" stroke="#111" stroke-width="2.3" stroke-linecap="butt"/>
<path d="M605 244L591.6 238.7L595.35 244L591.6 249.3Z" stroke="none" stroke-width="0" fill="#111"/>
<text x="579.8" y="268.5" font-size="19.3" font-weight="bold" font-style="normal" fill="#111" text-anchor="middle" stroke="#111" stroke-width="0.34">200 s</text>
<text x="470.6" y="89" font-size="23.15" font-weight="bold" font-style="normal" fill="#9a9a9a" text-anchor="start" stroke="#9a9a9a" stroke-width="0.34">Scrambled siRNA</text>
<text x="484.2" y="197" font-size="23.1" font-weight="bold" font-style="normal" fill="#111" text-anchor="start" stroke="#111" stroke-width="0.34">OPA1 siRNA</text>
<rect x="135.9" y="316.6" width="29.4" height="138.4" fill="#9e9e9e" stroke="#404040" stroke-width="1.2"/>
<path d="M150.6 305.5V326.6 M145.6 305.5H155.6 M145.6 326.6H155.6" stroke="#2a2a2a" stroke-width="1.3" fill="none"/>
<rect x="172.4" y="362" width="31.3" height="93" fill="#161616"/>
<path d="M188.05 354.6V362 M183.05 354.6H193.05" stroke="#2a2a2a" stroke-width="1.3" fill="none"/>
<rect x="248.3" y="428" width="29.7" height="27" fill="#9e9e9e" stroke="#404040" stroke-width="1.2"/>
<path d="M263.15 423.2V431.4 M258.15 423.2H268.15 M258.15 431.4H268.15" stroke="#2a2a2a" stroke-width="1.3" fill="none"/>
<rect x="285.7" y="425.4" width="30.6" height="29.6" fill="#161616"/>
<path d="M301 422.4V425.4 M296 422.4H306" stroke="#2a2a2a" stroke-width="1.3" fill="none"/>
<line x1="127.6" y1="301.6" x2="127.6" y2="456.4" stroke="#111" stroke-width="2.6" stroke-linecap="butt"/>
<line x1="123.2" y1="455.2" x2="326.5" y2="455.2" stroke="#111" stroke-width="2.5" stroke-linecap="butt"/>
<line x1="123.6" y1="329.9" x2="127.6" y2="329.9" stroke="#111" stroke-width="1.6" stroke-linecap="butt"/>
<line x1="123.6" y1="361.2" x2="127.6" y2="361.2" stroke="#111" stroke-width="1.6" stroke-linecap="butt"/>
<line x1="123.6" y1="392.6" x2="127.6" y2="392.6" stroke="#111" stroke-width="1.6" stroke-linecap="butt"/>
<line x1="123.6" y1="423.9" x2="127.6" y2="423.9" stroke="#111" stroke-width="1.6" stroke-linecap="butt"/>
<text x="119.2" y="334.6" font-size="19.6" font-weight="normal" font-style="normal" fill="#1c1c1c" text-anchor="end" stroke="#1c1c1c" stroke-width="0.22">1.6</text>
<text x="119.2" y="398.6" font-size="19.6" font-weight="normal" font-style="normal" fill="#1c1c1c" text-anchor="end" stroke="#1c1c1c" stroke-width="0.22">0.8</text>
<text x="119.2" y="462" font-size="19.6" font-weight="normal" font-style="normal" fill="#1c1c1c" text-anchor="end" stroke="#1c1c1c" stroke-width="0.22">0</text>
<text x="191" y="356.8" font-size="16" font-weight="bold" font-style="normal" fill="#222" text-anchor="middle" letter-spacing="2.0" stroke="#222" stroke-width="0.34">***</text>
<rect x="205.6" y="286.6" width="13.3" height="13.3" fill="#161616"/>
<rect x="206.3" y="306.6" width="11.9" height="12.2" fill="#9e9e9e" stroke="#404040" stroke-width="1.4"/>
<text x="225.6" y="300.6" font-size="17.3" font-weight="bold" font-style="normal" fill="#111" text-anchor="start" stroke="#111" stroke-width="0.34">OPA1 siRNA</text>
<text x="225.7" y="318.3" font-size="17.25" font-weight="bold" font-style="normal" fill="#111" text-anchor="start" stroke="#111" stroke-width="0.34">Scrambled</text>
<text x="170.7" y="480.4" font-size="20.2" font-weight="bold" font-style="normal" fill="#111" text-anchor="middle" stroke="#111" stroke-width="0.34">First</text>
<text x="170.7" y="503.6" font-size="20.2" font-weight="bold" font-style="normal" fill="#111" text-anchor="middle" stroke="#111" stroke-width="0.34">stimulus</text>
<text x="287.3" y="480.6" font-size="20.5" font-weight="bold" font-style="normal" fill="#111" text-anchor="middle" stroke="#111" stroke-width="0.34">All following</text>
<text x="286.5" y="503.6" font-size="20.2" font-weight="bold" font-style="normal" fill="#111" text-anchor="middle" stroke="#111" stroke-width="0.34">stimuli</text>
<text x="33.2" y="379.4" font-size="19.2" font-weight="bold" font-style="normal" fill="#111" text-anchor="middle" transform="rotate(-90 33.2 379.4)" stroke="#111" stroke-width="0.34">Amplitude</text>
<text x="53.6" y="379.4" font-size="19.2" font-weight="bold" font-style="normal" fill="#111" text-anchor="middle" transform="rotate(-90 53.6 379.4)" stroke="#111" stroke-width="0.34">of Response</text>
<text x="77.4" y="380" font-size="18.5" font-weight="bold" font-style="normal" fill="#111" text-anchor="middle" transform="rotate(-90 77.4 380)" stroke="#111" stroke-width="0.34"><tspan font-weight="bold">(</tspan><tspan font-weight="normal">Δ</tspan>F/F<tspan font-size="9.25" dy="4.62">0</tspan><tspan dy="-4.62" font-weight="bold">)</tspan></text>
<text x="31.6" y="301" font-size="17.6" font-weight="normal" font-style="normal" fill="#111" text-anchor="start" stroke="#111" stroke-width="0.22">b</text>
<rect x="504.6" y="353.2" width="7.8" height="115.3" fill="#9e9e9e" stroke="#404040" stroke-width="1.2"/>
<path d="M508.5 333.5V371.7 M506.7 333.5H510.3 M506.7 371.7H510.3" stroke="#2a2a2a" stroke-width="0.9" fill="none"/>
<rect x="515" y="315.7" width="8.6" height="152.8" fill="#161616"/>
<path d="M519.3 302.9V315.7 M517.5 302.9H521.1" stroke="#2a2a2a" stroke-width="0.9" fill="none"/>
<rect x="525.8" y="349.9" width="7.8" height="118.6" fill="#9e9e9e" stroke="#404040" stroke-width="1.2"/>
<path d="M529.7 337.3V362 M527.9 337.3H531.5 M527.9 362H531.5" stroke="#2a2a2a" stroke-width="0.9" fill="none"/>
<rect x="536" y="345.5" width="8.9" height="123" fill="#161616"/>
<path d="M540.45 334.8V345.5 M538.65 334.8H542.25" stroke="#2a2a2a" stroke-width="0.9" fill="none"/>
<rect x="547.4" y="376.6" width="7.8" height="91.9" fill="#9e9e9e" stroke="#404040" stroke-width="1.2"/>
<path d="M551.3 367.9V384.4 M549.5 367.9H553.1 M549.5 384.4H553.1" stroke="#2a2a2a" stroke-width="0.9" fill="none"/>
<rect x="557.4" y="378.8" width="8.8" height="89.7" fill="#161616"/>
<path d="M561.8 365.3V378.8 M560 365.3H563.6" stroke="#2a2a2a" stroke-width="0.9" fill="none"/>
<rect x="568.6" y="392.6" width="7.4" height="75.9" fill="#9e9e9e" stroke="#404040" stroke-width="1.2"/>
<path d="M572.3 385.7V399 M570.5 385.7H574.1 M570.5 399H574.1" stroke="#2a2a2a" stroke-width="0.9" fill="none"/>
<rect x="578.4" y="388.3" width="8.8" height="80.2" fill="#161616"/>
<path d="M582.8 378.8V388.3 M581 378.8H584.6" stroke="#2a2a2a" stroke-width="0.9" fill="none"/>
<rect x="589.6" y="404.1" width="7.6" height="64.4" fill="#9e9e9e" stroke="#404040" stroke-width="1.2"/>
<path d="M593.4 399V408 M591.6 399H595.2 M591.6 408H595.2" stroke="#2a2a2a" stroke-width="0.9" fill="none"/>
<rect x="599.8" y="385.7" width="8.9" height="82.8" fill="#161616"/>
<path d="M604.25 374.8V385.7 M602.45 374.8H606.05" stroke="#2a2a2a" stroke-width="0.9" fill="none"/>
<rect x="610.9" y="406.6" width="7.5" height="61.9" fill="#9e9e9e" stroke="#404040" stroke-width="1.2"/>
<path d="M614.65 401V411.7 M612.85 401H616.45 M612.85 411.7H616.45" stroke="#2a2a2a" stroke-width="0.9" fill="none"/>
<rect x="621" y="391.6" width="8.9" height="76.9" fill="#161616"/>
<path d="M625.45 382.4V391.6 M623.65 382.4H627.25" stroke="#2a2a2a" stroke-width="0.9" fill="none"/>
<rect x="632.2" y="397.3" width="7.6" height="71.2" fill="#9e9e9e" stroke="#404040" stroke-width="1.2"/>
<path d="M636 390V404 M634.2 390H637.8 M634.2 404H637.8" stroke="#2a2a2a" stroke-width="0.9" fill="none"/>
<rect x="642.3" y="402.3" width="8.8" height="66.2" fill="#161616"/>
<path d="M646.7 394.1V402.3 M644.9 394.1H648.5" stroke="#2a2a2a" stroke-width="0.9" fill="none"/>
<rect x="653.8" y="422" width="7.4" height="46.5" fill="#9e9e9e" stroke="#404040" stroke-width="1.2"/>
<path d="M657.5 417.5V426 M655.7 417.5H659.3 M655.7 426H659.3" stroke="#2a2a2a" stroke-width="0.9" fill="none"/>
<rect x="663.7" y="389.5" width="8.8" height="79" fill="#161616"/>
<path d="M668.1 378.8V389.5 M666.3 378.8H669.9" stroke="#2a2a2a" stroke-width="0.9" fill="none"/>
<rect x="675" y="427.1" width="7.3" height="41.4" fill="#9e9e9e" stroke="#404040" stroke-width="1.2"/>
<path d="M678.65 422.6V430.3 M676.85 422.6H680.45 M676.85 430.3H680.45" stroke="#2a2a2a" stroke-width="0.9" fill="none"/>
<rect x="684.6" y="413.7" width="8.9" height="54.8" fill="#161616"/>
<path d="M689.05 408.1V413.7 M687.25 408.1H690.85" stroke="#2a2a2a" stroke-width="0.9" fill="none"/>
<rect x="696.2" y="427.8" width="7.5" height="40.7" fill="#9e9e9e" stroke="#404040" stroke-width="1.2"/>
<path d="M699.95 423.4V431.6 M698.15 423.4H701.75 M698.15 431.6H701.75" stroke="#2a2a2a" stroke-width="0.9" fill="none"/>
<rect x="706.2" y="421.4" width="8.6" height="47.1" fill="#161616"/>
<path d="M710.5 415V421.4 M708.7 415H712.3" stroke="#2a2a2a" stroke-width="0.9" fill="none"/>
<rect x="717.6" y="434.7" width="7.3" height="33.8" fill="#9e9e9e" stroke="#404040" stroke-width="1.2"/>
<path d="M721.25 431V437.9 M719.45 431H723.05 M719.45 437.9H723.05" stroke="#2a2a2a" stroke-width="0.9" fill="none"/>
<rect x="727.4" y="411.9" width="8.7" height="56.6" fill="#161616"/>
<path d="M731.75 404.8V411.9 M729.95 404.8H733.55" stroke="#2a2a2a" stroke-width="0.9" fill="none"/>
<line x1="499.2" y1="293" x2="499.2" y2="469.8" stroke="#111" stroke-width="2.6" stroke-linecap="butt"/>
<line x1="494.6" y1="468.5" x2="738.2" y2="468.5" stroke="#111" stroke-width="2.6" stroke-linecap="butt"/>
<line x1="496.1" y1="459.15" x2="499.2" y2="459.15" stroke="#111" stroke-width="1.6" stroke-linecap="butt"/>
<line x1="496.1" y1="449.8" x2="499.2" y2="449.8" stroke="#111" stroke-width="1.6" stroke-linecap="butt"/>
<line x1="496.1" y1="440.45" x2="499.2" y2="440.45" stroke="#111" stroke-width="1.6" stroke-linecap="butt"/>
<line x1="496.1" y1="431.1" x2="499.2" y2="431.1" stroke="#111" stroke-width="1.6" stroke-linecap="butt"/>
<line x1="494.3" y1="421.75" x2="499.2" y2="421.75" stroke="#111" stroke-width="1.9" stroke-linecap="butt"/>
<line x1="496.1" y1="412.4" x2="499.2" y2="412.4" stroke="#111" stroke-width="1.6" stroke-linecap="butt"/>
<line x1="496.1" y1="403.05" x2="499.2" y2="403.05" stroke="#111" stroke-width="1.6" stroke-linecap="butt"/>
<line x1="496.1" y1="393.7" x2="499.2" y2="393.7" stroke="#111" stroke-width="1.6" stroke-linecap="butt"/>
<line x1="496.1" y1="384.35" x2="499.2" y2="384.35" stroke="#111" stroke-width="1.6" stroke-linecap="butt"/>
<line x1="494.3" y1="375" x2="499.2" y2="375" stroke="#111" stroke-width="1.9" stroke-linecap="butt"/>
<line x1="496.1" y1="365.65" x2="499.2" y2="365.65" stroke="#111" stroke-width="1.6" stroke-linecap="butt"/>
<line x1="496.1" y1="356.3" x2="499.2" y2="356.3" stroke="#111" stroke-width="1.6" stroke-linecap="butt"/>
<line x1="496.1" y1="346.95" x2="499.2" y2="346.95" stroke="#111" stroke-width="1.6" stroke-linecap="butt"/>
<line x1="496.1" y1="337.6" x2="499.2" y2="337.6" stroke="#111" stroke-width="1.6" stroke-linecap="butt"/>
<line x1="494.3" y1="328.25" x2="499.2" y2="328.25" stroke="#111" stroke-width="1.9" stroke-linecap="butt"/>
<line x1="496.1" y1="318.9" x2="499.2" y2="318.9" stroke="#111" stroke-width="1.6" stroke-linecap="butt"/>
<line x1="496.1" y1="309.55" x2="499.2" y2="309.55" stroke="#111" stroke-width="1.6" stroke-linecap="butt"/>
<line x1="496.1" y1="300.2" x2="499.2" y2="300.2" stroke="#111" stroke-width="1.6" stroke-linecap="butt"/>
<text x="493.6" y="335.12" font-size="21" font-weight="normal" font-style="normal" fill="#1c1c1c" text-anchor="end" stroke="#1c1c1c" stroke-width="0.22">0.012</text>
<text x="493.6" y="382.12" font-size="21" font-weight="normal" font-style="normal" fill="#1c1c1c" text-anchor="end" stroke="#1c1c1c" stroke-width="0.22">0.008</text>
<text x="493.6" y="428.92" font-size="21" font-weight="normal" font-style="normal" fill="#1c1c1c" text-anchor="end" stroke="#1c1c1c" stroke-width="0.22">0.004</text>
<text x="491" y="475.72" font-size="21" font-weight="normal" font-style="normal" fill="#1c1c1c" text-anchor="end" stroke="#1c1c1c" stroke-width="0.22">0</text>
<text x="403.8" y="380" font-size="19.1" font-weight="bold" font-style="normal" fill="#111" text-anchor="middle" transform="rotate(-90 403.8 380)" letter-spacing="0.12" stroke="#111" stroke-width="0.34">Decay Slope</text>
<text x="424.4" y="380" font-size="19.3" font-weight="bold" font-style="normal" fill="#111" text-anchor="middle" transform="rotate(-90 424.4 380)" letter-spacing="0.22" stroke="#111" stroke-width="0.34">(negative s<tspan font-size="12.74" dx="0.6" dy="-8.88">-1</tspan><tspan dx="-0.4" dy="8.88">)</tspan></text>
<text x="391.4" y="301" font-size="17.6" font-weight="normal" font-style="normal" fill="#111" text-anchor="start" stroke="#111" stroke-width="0.22">c</text>
<rect x="617.3" y="305.7" width="13.3" height="13.3" fill="#161616"/>
<rect x="618" y="327.6" width="11.9" height="12.2" fill="#9e9e9e" stroke="#404040" stroke-width="1.4"/>
<text x="638" y="318.4" font-size="17.45" font-weight="bold" font-style="normal" fill="#111" text-anchor="start" stroke="#111" stroke-width="0.34">OPA1 siRNA</text>
<text x="638" y="338" font-size="17.4" font-weight="bold" font-style="normal" fill="#111" text-anchor="start" stroke="#111" stroke-width="0.34">Scrambled</text>
<text x="618.7" y="494.7" font-size="22.45" font-weight="bold" font-style="normal" fill="#111" text-anchor="middle" stroke="#111" stroke-width="0.34">Histamine stimuli</text>
</g>
<g id="panelB">
<polygon points="294.4,582.78 303.8,600.5 303.8,616.13 294.4,611.61" fill="#a2a2a2"/>
<path d="M294 611.61H297.6M295.48 612.52H299.08M296.96 613.42H300.56M298.44 614.32H302.04M299.92 615.23H303.52M301.4 616.13H305" stroke="#4a4a4a" stroke-width="0.9" fill="none"/>
<polygon points="308.6,636.47 309.87,638.71 311.15,640.74 312.42,642.56 313.7,644.21 314.97,645.7 316.25,647.05 317.52,648.26 318.8,649.36 320.07,650.35 321.35,651.25 322.62,652.06 323.9,652.8 323.9,657.8 322.62,657.13 321.35,656.39 320.07,655.55 318.8,654.63 317.52,653.6 316.25,652.45 314.97,651.17 313.7,649.75 312.42,648.16 311.15,646.4 309.87,644.45 308.6,642.27" fill="#a4a4a4" stroke="#a4a4a4" stroke-width="0.8"/>
<path d="M308.6 636.47 L309.87 638.71 L311.15 640.74 L312.42 642.56 L313.7 644.21 L314.97 645.7 L316.25 647.05 L317.52 648.26 L318.8 649.36 L320.07 650.35 L321.35 651.25 L322.62 652.06 L323.9 652.8" stroke="#5a5a5a" stroke-width="0.8" fill="none"/>
<polygon points="326.6,611.95 336,621.9 336,628.44 326.6,625.08" fill="#a2a2a2"/>
<path d="M326.2 625.08H329.8M327.68 625.76H331.28M329.16 626.43H332.76M330.64 627.1H334.24M332.12 627.77H335.72M333.6 628.44H337.2" stroke="#4a4a4a" stroke-width="0.9" fill="none"/>
<polygon points="340.8,652.38 342.12,654.06 343.45,655.58 344.77,656.95 346.1,658.2 347.42,659.32 348.75,660.34 350.07,661.26 351.4,662.09 352.72,662.85 354.05,663.53 355.38,664.16 356.7,664.72 356.7,669.39 355.38,668.92 354.05,668.39 352.72,667.8 351.4,667.14 350.07,666.4 348.75,665.57 347.42,664.65 346.1,663.62 344.77,662.47 343.45,661.19 342.12,659.77 340.8,658.18" fill="#a4a4a4" stroke="#a4a4a4" stroke-width="0.8"/>
<path d="M340.8 652.38 L342.12 654.06 L343.45 655.58 L344.77 656.95 L346.1 658.2 L347.42 659.32 L348.75 660.34 L350.07 661.26 L351.4 662.09 L352.72 662.85 L354.05 663.53 L355.38 664.16 L356.7 664.72" stroke="#5a5a5a" stroke-width="0.8" fill="none"/>
<polygon points="358.8,625.74 368.2,633.8 368.2,642.61 358.8,639.55" fill="#a2a2a2"/>
<path d="M358.4 639.55H362M359.88 640.16H363.48M361.36 640.77H364.96M362.84 641.39H366.44M364.32 642H367.92M365.8 642.61H369.4" stroke="#4a4a4a" stroke-width="0.9" fill="none"/>
<polygon points="373,658.63 374.27,660.4 375.55,662 376.82,663.45 378.1,664.76 379.38,665.95 380.65,667.03 381.93,668.01 383.2,668.9 384.48,669.7 385.75,670.43 387.03,671.1 388.3,671.7 388.3,676 387.03,675.52 385.75,674.98 384.48,674.37 383.2,673.69 381.93,672.93 380.65,672.08 379.38,671.12 378.1,670.06 376.82,668.87 375.55,667.55 374.27,666.07 373,664.43" fill="#a4a4a4" stroke="#a4a4a4" stroke-width="0.8"/>
<path d="M373 658.63 L374.27 660.4 L375.55 662 L376.82 663.45 L378.1 664.76 L379.38 665.95 L380.65 667.03 L381.93 668.01 L383.2 668.9 L384.48 669.7 L385.75 670.43 L387.03 671.1 L388.3 671.7" stroke="#5a5a5a" stroke-width="0.8" fill="none"/>
<polygon points="391.2,639.18 400.6,644 400.6,653.7 391.2,651.12" fill="#a2a2a2"/>
<path d="M390.8 651.12H394.4M392.28 651.64H395.88M393.76 652.16H397.36M395.24 652.67H398.84M396.72 653.19H400.32M398.2 653.7H401.8" stroke="#4a4a4a" stroke-width="0.9" fill="none"/>
<polygon points="405.4,668.98 406.69,669.97 407.98,670.87 409.27,671.69 410.57,672.43 411.86,673.11 413.15,673.74 414.44,674.31 415.73,674.83 417.02,675.31 418.32,675.75 419.61,676.16 420.9,676.53 420.9,680.18 419.61,679.98 418.32,679.75 417.02,679.49 415.73,679.19 414.44,678.85 413.15,678.46 411.86,678.02 410.57,677.51 409.27,676.95 407.98,676.31 406.69,675.59 405.4,674.78" fill="#a4a4a4" stroke="#a4a4a4" stroke-width="0.8"/>
<path d="M405.4 668.98 L406.69 669.97 L407.98 670.87 L409.27 671.69 L410.57 672.43 L411.86 673.11 L413.15 673.74 L414.44 674.31 L415.73 674.83 L417.02 675.31 L418.32 675.75 L419.61 676.16 L420.9 676.53" stroke="#5a5a5a" stroke-width="0.8" fill="none"/>
<polygon points="423.9,650.53 433.3,654 433.3,659.62 423.9,657.24" fill="#a2a2a2"/>
<path d="M423.5 657.24H427.1M424.98 657.71H428.58M426.46 658.19H430.06M427.94 658.67H431.54M429.42 659.14H433.02M430.9 659.62H434.5" stroke="#4a4a4a" stroke-width="0.9" fill="none"/>
<polygon points="438.1,674.7 439.37,675.56 440.63,676.34 441.9,677.06 443.17,677.71 444.43,678.31 445.7,678.86 446.97,679.37 448.23,679.84 449.5,680.27 450.77,680.67 452.03,681.04 453.3,681.38 453.3,684.75 452.03,684.61 450.77,684.45 449.5,684.25 448.23,684.02 446.97,683.76 445.7,683.45 444.43,683.1 443.17,682.7 441.9,682.25 440.63,681.74 439.37,681.15 438.1,680.5" fill="#a4a4a4" stroke="#a4a4a4" stroke-width="0.8"/>
<path d="M438.1 674.7 L439.37 675.56 L440.63 676.34 L441.9 677.06 L443.17 677.71 L444.43 678.31 L445.7 678.86 L446.97 679.37 L448.23 679.84 L449.5 680.27 L450.77 680.67 L452.03 681.04 L453.3 681.38" stroke="#5a5a5a" stroke-width="0.8" fill="none"/>
<polygon points="455.8,657.4 465.2,660 465.2,665.39 455.8,663.15" fill="#a2a2a2"/>
<path d="M455.4 663.15H459M456.88 663.6H460.48M458.36 664.05H461.96M459.84 664.49H463.44M461.32 664.94H464.92M462.8 665.39H466.4" stroke="#4a4a4a" stroke-width="0.9" fill="none"/>
<polygon points="470,677.21 471.25,678.03 472.51,678.78 473.76,679.47 475.02,680.11 476.27,680.7 477.52,681.24 478.78,681.75 480.03,682.21 481.28,682.65 482.54,683.05 483.79,683.42 485.05,683.77 486.3,684.1 486.3,687.3 485.05,687.17 483.79,687.02 482.54,686.85 481.28,686.65 480.03,686.41 478.78,686.15 477.52,685.84 476.27,685.5 475.02,685.11 473.76,684.67 472.51,684.18 471.25,683.63 470,683.01" fill="#a4a4a4" stroke="#a4a4a4" stroke-width="0.8"/>
<path d="M470 677.21 L471.25 678.03 L472.51 678.78 L473.76 679.47 L475.02 680.11 L476.27 680.7 L477.52 681.24 L478.78 681.75 L480.03 682.21 L481.28 682.65 L482.54 683.05 L483.79 683.42 L485.05 683.77 L486.3 684.1" stroke="#5a5a5a" stroke-width="0.8" fill="none"/>
<polygon points="488.9,661.5 498.3,664.1 498.3,669.85 488.9,667.81" fill="#a2a2a2"/>
<path d="M488.5 667.81H492.1M489.98 668.22H493.58M491.46 668.62H495.06M492.94 669.03H496.54M494.42 669.44H498.02M495.9 669.85H499.5" stroke="#4a4a4a" stroke-width="0.9" fill="none"/>
<polygon points="503.1,681.93 504.39,682.45 505.69,682.94 506.98,683.39 508.27,683.81 509.57,684.21 510.86,684.58 512.15,684.93 513.45,685.26 514.74,685.57 516.03,685.86 517.33,686.14 518.62,686.4 519.91,686.64 521.21,686.88 522.5,687.1 522.5,690.3 521.21,690.25 519.91,690.19 518.62,690.12 517.33,690.03 516.03,689.93 514.74,689.81 513.45,689.68 512.15,689.52 510.86,689.34 509.57,689.14 508.27,688.92 506.98,688.67 505.69,688.39 504.39,688.08 503.1,687.73" fill="#a4a4a4" stroke="#a4a4a4" stroke-width="0.8"/>
<path d="M503.1 681.93 L504.39 682.45 L505.69 682.94 L506.98 683.39 L508.27 683.81 L509.57 684.21 L510.86 684.58 L512.15 684.93 L513.45 685.26 L514.74 685.57 L516.03 685.86 L517.33 686.14 L518.62 686.4 L519.91 686.64 L521.21 686.88 L522.5 687.1" stroke="#5a5a5a" stroke-width="0.8" fill="none"/>
<polygon points="524.9,669.6 534.3,672.2 534.3,674.16 524.9,672.27" fill="#a2a2a2"/>
<path d="M524.5 672.27H528.1M525.98 672.65H529.58M527.46 673.03H531.06M528.94 673.41H532.54M530.42 673.79H534.02M531.9 674.16H535.5" stroke="#4a4a4a" stroke-width="0.9" fill="none"/>
<polygon points="539.1,686.05 540.41,686.44 541.71,686.81 543.02,687.16 544.33,687.49 545.63,687.79 546.94,688.08 548.25,688.36 549.55,688.62 550.86,688.86 552.17,689.1 553.47,689.32 554.78,689.53 556.09,689.73 557.39,689.92 558.7,690.1 558.7,693.3 557.39,693.29 556.09,693.27 554.78,693.25 553.47,693.21 552.17,693.16 550.86,693.1 549.55,693.03 548.25,692.95 546.94,692.84 545.63,692.73 544.33,692.59 543.02,692.44 541.71,692.27 540.41,692.07 539.1,691.85" fill="#a4a4a4" stroke="#a4a4a4" stroke-width="0.8"/>
<path d="M539.1 686.05 L540.41 686.44 L541.71 686.81 L543.02 687.16 L544.33 687.49 L545.63 687.79 L546.94 688.08 L548.25 688.36 L549.55 688.62 L550.86 688.86 L552.17 689.1 L553.47 689.32 L554.78 689.53 L556.09 689.73 L557.39 689.92 L558.7 690.1" stroke="#5a5a5a" stroke-width="0.8" fill="none"/>
<polygon points="561.2,674.2 570.6,676.8 570.6,679.37 561.2,677.71" fill="#a2a2a2"/>
<path d="M560.8 677.71H564.4M562.28 678.04H565.88M563.76 678.38H567.36M565.24 678.71H568.84M566.72 679.04H570.32M568.2 679.37H571.8" stroke="#4a4a4a" stroke-width="0.9" fill="none"/>
<polygon points="575.4,688.21 576.73,688.61 578.06,688.99 579.39,689.34 580.71,689.67 582.04,689.98 583.37,690.27 584.7,690.55 586.03,690.81 587.36,691.05 588.69,691.28 590.01,691.5 591.34,691.71 592.67,691.91 594,692.1 594,695.3 592.67,695.3 591.34,695.28 590.01,695.26 588.69,695.23 587.36,695.18 586.03,695.12 584.7,695.05 583.37,694.96 582.04,694.85 580.71,694.73 579.39,694.58 578.06,694.42 576.73,694.23 575.4,694.01" fill="#a4a4a4" stroke="#a4a4a4" stroke-width="0.8"/>
<path d="M575.4 688.21 L576.73 688.61 L578.06 688.99 L579.39 689.34 L580.71 689.67 L582.04 689.98 L583.37 690.27 L584.7 690.55 L586.03 690.81 L587.36 691.05 L588.69 691.28 L590.01 691.5 L591.34 691.71 L592.67 691.91 L594 692.1" stroke="#5a5a5a" stroke-width="0.8" fill="none"/>
<polygon points="596.9,678.7 606.3,681.3 606.3,682.65 596.9,681.12" fill="#a2a2a2"/>
<path d="M596.5 681.12H600.1M597.98 681.43H601.58M599.46 681.73H603.06M600.94 682.04H604.54M602.42 682.34H606.02M603.9 682.65H607.5" stroke="#4a4a4a" stroke-width="0.9" fill="none"/>
<polygon points="611.1,690.32 612.45,690.66 613.79,690.98 615.14,691.27 616.48,691.55 617.83,691.81 619.17,692.05 620.52,692.29 621.86,692.5 623.21,692.71 624.55,692.91 625.9,693.1 625.9,696.3 624.55,696.35 623.21,696.38 621.86,696.41 620.52,696.43 619.17,696.44 617.83,696.43 616.48,696.4 615.14,696.36 613.79,696.31 612.45,696.22 611.1,696.12" fill="#a4a4a4" stroke="#a4a4a4" stroke-width="0.8"/>
<path d="M611.1 690.32 L612.45 690.66 L613.79 690.98 L615.14 691.27 L616.48 691.55 L617.83 691.81 L619.17 692.05 L620.52 692.29 L621.86 692.5 L623.21 692.71 L624.55 692.91 L625.9 693.1" stroke="#5a5a5a" stroke-width="0.8" fill="none"/>
<polygon points="628.8,681.5 638.2,684.1 638.2,685.48 628.8,684.14" fill="#a2a2a2"/>
<path d="M628.4 684.14H632M629.88 684.41H633.48M631.36 684.68H634.96M632.84 684.94H636.44M634.32 685.21H637.92M635.8 685.48H639.4" stroke="#4a4a4a" stroke-width="0.9" fill="none"/>
<polygon points="643,690.02 644.32,690.44 645.64,690.83 646.96,691.19 648.28,691.52 649.6,691.83 650.92,692.12 652.24,692.38 653.56,692.64 654.88,692.87 656.2,693.1 656.2,696.3 654.88,696.33 653.56,696.36 652.24,696.36 650.92,696.36 649.6,696.33 648.28,696.28 646.96,696.21 645.64,696.11 644.32,695.98 643,695.82" fill="#a4a4a4" stroke="#a4a4a4" stroke-width="0.8"/>
<path d="M643 690.02 L644.32 690.44 L645.64 690.83 L646.96 691.19 L648.28 691.52 L649.6 691.83 L650.92 692.12 L652.24 692.38 L653.56 692.64 L654.88 692.87 L656.2 693.1" stroke="#5a5a5a" stroke-width="0.8" fill="none"/>
<path d="M273.5 654.0L291 659.0" stroke="#111" stroke-width="7" fill="none" stroke-linecap="round"/>
<path d="M296.6 582.78L304.2 600.5" stroke="#111" stroke-width="5.98" fill="none"/>
<path d="M328.8 611.95L336.4 621.9" stroke="#111" stroke-width="7.28" fill="none"/>
<path d="M361 625.74L368.6 633.8" stroke="#111" stroke-width="7.59" fill="none"/>
<path d="M393.4 639.18L401 644" stroke="#111" stroke-width="8.13" fill="none"/>
<path d="M426.1 650.53L433.7 654" stroke="#111" stroke-width="8.36" fill="none"/>
<path d="M458 657.4L465.6 660" stroke="#111" stroke-width="8.51" fill="none"/>
<path d="M491.1 661.5L498.7 664.1" stroke="#111" stroke-width="8.74" fill="none"/>
<path d="M527.1 669.6L534.7 672.2" stroke="#111" stroke-width="8.89" fill="none"/>
<path d="M563.4 674.2L571 676.8" stroke="#111" stroke-width="9.15" fill="none"/>
<path d="M599.1 678.7L606.7 681.3" stroke="#111" stroke-width="9.3" fill="none"/>
<path d="M631 681.5L638.6 684.1" stroke="#111" stroke-width="9.52" fill="none"/>
<path d="M308 647.3V652.7 M306.2 647.3H309.8 M306.2 652.7H309.8M309.25 649.29V654.69 M307.45 649.29H311.05 M307.45 654.69H311.05M310.49 650.97V656.37 M308.69 650.97H312.29 M308.69 656.37H312.29M311.74 652.38V657.78 M309.94 652.38H313.54 M309.94 657.78H313.54M312.98 653.58V658.98 M311.18 653.58H314.78 M311.18 658.98H314.78M314.23 654.58V659.98 M312.43 654.58H316.03 M312.43 659.98H316.03M315.48 655.43V660.83 M313.68 655.43H317.28 M313.68 660.83H317.28M316.72 656.14V661.54 M314.92 656.14H318.52 M314.92 661.54H318.52M317.97 656.75V662.15 M316.17 656.75H319.77 M316.17 662.15H319.77M319.22 657.25V662.65 M317.42 657.25H321.02 M317.42 662.65H321.02M320.46 657.68V663.08 M318.66 657.68H322.26 M318.66 663.08H322.26M321.71 658.04V663.44 M319.91 658.04H323.51 M319.91 663.44H323.51M322.95 658.34V663.74 M321.15 658.34H324.75 M321.15 663.74H324.75M324.2 658.6V664 M322.4 658.6H326 M322.4 664H326M340.2 661.4V666.8 M338.4 661.4H342 M338.4 666.8H342M341.49 662.93V668.33 M339.69 662.93H343.29 M339.69 668.33H343.29M342.78 664.23V669.63 M340.98 664.23H344.58 M340.98 669.63H344.58M344.08 665.31V670.71 M342.28 665.31H345.88 M342.28 670.71H345.88M345.37 666.23V671.63 M343.57 666.23H347.17 M343.57 671.63H347.17M346.66 667.01V672.41 M344.86 667.01H348.46 M344.86 672.41H348.46M347.95 667.66V673.06 M346.15 667.66H349.75 M346.15 673.06H349.75M349.25 668.21V673.61 M347.45 668.21H351.05 M347.45 673.61H351.05M350.54 668.67V674.07 M348.74 668.67H352.34 M348.74 674.07H352.34M351.83 669.06V674.46 M350.03 669.06H353.63 M350.03 674.46H353.63M353.12 669.39V674.79 M351.32 669.39H354.92 M351.32 674.79H354.92M354.42 669.67V675.07 M352.62 669.67H356.22 M352.62 675.07H356.22M355.71 669.9V675.3 M353.91 669.9H357.51 M353.91 675.3H357.51M357 670.1V675.5 M355.2 670.1H358.8 M355.2 675.5H358.8M372.4 667.2V672.6 M370.6 667.2H374.2 M370.6 672.6H374.2M373.65 668.86V674.26 M371.85 668.86H375.45 M371.85 674.26H375.45M374.89 670.25V675.65 M373.09 670.25H376.69 M373.09 675.65H376.69M376.14 671.43V676.83 M374.34 671.43H377.94 M374.34 676.83H377.94M377.38 672.42V677.82 M375.58 672.42H379.18 M375.58 677.82H379.18M378.63 673.26V678.66 M376.83 673.26H380.43 M376.83 678.66H380.43M379.88 673.96V679.36 M378.08 673.96H381.68 M378.08 679.36H381.68M381.12 674.56V679.96 M379.32 674.56H382.92 M379.32 679.96H382.92M382.37 675.06V680.46 M380.57 675.06H384.17 M380.57 680.46H384.17M383.62 675.48V680.88 M381.82 675.48H385.42 M381.82 680.88H385.42M384.86 675.83V681.23 M383.06 675.83H386.66 M383.06 681.23H386.66M386.11 676.13V681.53 M384.31 676.13H387.91 M384.31 681.53H387.91M387.35 676.39V681.79 M385.55 676.39H389.15 M385.55 681.79H389.15M388.6 676.6V682 M386.8 676.6H390.4 M386.8 682H390.4M404.8 676.8V682.2 M403 676.8H406.6 M403 682.2H406.6M406.06 677.47V682.87 M404.26 677.47H407.86 M404.26 682.87H407.86M407.32 678.03V683.43 M405.52 678.03H409.12 M405.52 683.43H409.12M408.58 678.51V683.91 M406.78 678.51H410.38 M406.78 683.91H410.38M409.85 678.91V684.31 M408.05 678.91H411.65 M408.05 684.31H411.65M411.11 679.25V684.65 M409.31 679.25H412.91 M409.31 684.65H412.91M412.37 679.53V684.93 M410.57 679.53H414.17 M410.57 684.93H414.17M413.63 679.77V685.17 M411.83 679.77H415.43 M411.83 685.17H415.43M414.89 679.98V685.38 M413.09 679.98H416.69 M413.09 685.38H416.69M416.15 680.15V685.55 M414.35 680.15H417.95 M414.35 685.55H417.95M417.42 680.29V685.69 M415.62 680.29H419.22 M415.62 685.69H419.22M418.68 680.41V685.81 M416.88 680.41H420.48 M416.88 685.81H420.48M419.94 680.51V685.91 M418.14 680.51H421.74 M418.14 685.91H421.74M421.2 680.6V686 M419.4 680.6H423 M419.4 686H423M437.5 682.2V687.6 M435.7 682.2H439.3 M435.7 687.6H439.3M438.74 682.71V688.11 M436.94 682.71H440.54 M436.94 688.11H440.54M439.98 683.14V688.54 M438.18 683.14H441.78 M438.18 688.54H441.78M441.22 683.5V688.9 M439.42 683.5H443.02 M439.42 688.9H443.02M442.45 683.81V689.21 M440.65 683.81H444.25 M440.65 689.21H444.25M443.69 684.07V689.47 M441.89 684.07H445.49 M441.89 689.47H445.49M444.93 684.29V689.69 M443.13 684.29H446.73 M443.13 689.69H446.73M446.17 684.47V689.87 M444.37 684.47H447.97 M444.37 689.87H447.97M447.41 684.62V690.02 M445.61 684.62H449.21 M445.61 690.02H449.21M448.65 684.75V690.15 M446.85 684.75H450.45 M446.85 690.15H450.45M449.88 684.86V690.26 M448.08 684.86H451.68 M448.08 690.26H451.68M451.12 684.96V690.36 M449.32 684.96H452.92 M449.32 690.36H452.92M452.36 685.03V690.43 M450.56 685.03H454.16 M450.56 690.43H454.16M453.6 685.1V690.5 M451.8 685.1H455.4 M451.8 690.5H455.4M469.4 684.5V689.9 M467.6 684.5H471.2 M467.6 689.9H471.2M470.63 685.01V690.41 M468.83 685.01H472.43 M468.83 690.41H472.43M471.86 685.45V690.85 M470.06 685.45H473.66 M470.06 690.85H473.66M473.09 685.82V691.22 M471.29 685.82H474.89 M471.29 691.22H474.89M474.31 686.13V691.53 M472.51 686.13H476.11 M472.51 691.53H476.11M475.54 686.4V691.8 M473.74 686.4H477.34 M473.74 691.8H477.34M476.77 686.64V692.04 M474.97 686.64H478.57 M474.97 692.04H478.57M478 686.83V692.23 M476.2 686.83H479.8 M476.2 692.23H479.8M479.23 687V692.4 M477.43 687H481.03 M477.43 692.4H481.03M480.46 687.14V692.54 M478.66 687.14H482.26 M478.66 692.54H482.26M481.69 687.27V692.67 M479.89 687.27H483.49 M479.89 692.67H483.49M482.91 687.37V692.77 M481.11 687.37H484.71 M481.11 692.77H484.71M484.14 687.46V692.86 M482.34 687.46H485.94 M482.34 692.86H485.94M485.37 687.54V692.94 M483.57 687.54H487.17 M483.57 692.94H487.17M486.6 687.6V693 M484.8 687.6H488.4 M484.8 693H488.4M502.5 688.9V694.3 M500.7 688.9H504.3 M500.7 694.3H504.3M503.77 689.15V694.55 M501.97 689.15H505.57 M501.97 694.55H505.57M505.04 689.36V694.76 M503.24 689.36H506.84 M503.24 694.76H506.84M506.31 689.55V694.95 M504.51 689.55H508.11 M504.51 694.95H508.11M507.57 689.71V695.11 M505.77 689.71H509.37 M505.77 695.11H509.37M508.84 689.85V695.25 M507.04 689.85H510.64 M507.04 695.25H510.64M510.11 689.98V695.38 M508.31 689.98H511.91 M508.31 695.38H511.91M511.38 690.09V695.49 M509.58 690.09H513.18 M509.58 695.49H513.18M512.65 690.18V695.58 M510.85 690.18H514.45 M510.85 695.58H514.45M513.92 690.26V695.66 M512.12 690.26H515.72 M512.12 695.66H515.72M515.19 690.33V695.73 M513.39 690.33H516.99 M513.39 695.73H516.99M516.46 690.39V695.79 M514.66 690.39H518.26 M514.66 695.79H518.26M517.72 690.45V695.85 M515.92 690.45H519.52 M515.92 695.85H519.52M518.99 690.49V695.89 M517.19 690.49H520.79 M517.19 695.89H520.79M520.26 690.53V695.93 M518.46 690.53H522.06 M518.46 695.93H522.06M521.53 690.57V695.97 M519.73 690.57H523.33 M519.73 695.97H523.33M522.8 690.6V696 M521 690.6H524.6 M521 696H524.6M538.5 692V699 M536.7 692H540.3 M536.7 699H540.3M539.78 692.12V699.12 M537.98 692.12H541.58 M537.98 699.12H541.58M541.06 692.22V699.22 M539.26 692.22H542.86 M539.26 699.22H542.86M542.34 692.31V699.31 M540.54 692.31H544.14 M540.54 699.31H544.14M543.62 692.38V699.38 M541.83 692.38H545.42 M541.83 699.38H545.42M544.91 692.45V699.45 M543.11 692.45H546.71 M543.11 699.45H546.71M546.19 692.51V699.51 M544.39 692.51H547.99 M544.39 699.51H547.99M547.47 692.56V699.56 M545.67 692.56H549.27 M545.67 699.56H549.27M548.75 692.6V699.6 M546.95 692.6H550.55 M546.95 699.6H550.55M550.03 692.64V699.64 M548.23 692.64H551.83 M548.23 699.64H551.83M551.31 692.67V699.67 M549.51 692.67H553.11 M549.51 699.67H553.11M552.59 692.7V699.7 M550.79 692.7H554.39 M550.79 699.7H554.39M553.88 692.73V699.73 M552.08 692.73H555.67 M552.08 699.73H555.67M555.16 692.75V699.75 M553.36 692.75H556.96 M553.36 699.75H556.96M556.44 692.77V699.77 M554.64 692.77H558.24 M554.64 699.77H558.24M557.72 692.79V699.79 M555.92 692.79H559.52 M555.92 699.79H559.52M559 692.8V699.8 M557.2 692.8H560.8 M557.2 699.8H560.8M574.8 693.8V700.8 M573 693.8H576.6 M573 700.8H576.6M576.02 693.95V700.95 M574.22 693.95H577.82 M574.22 700.95H577.82M577.24 694.07V701.07 M575.44 694.07H579.04 M575.44 701.07H579.04M578.46 694.18V701.18 M576.66 694.18H580.26 M576.66 701.18H580.26M579.67 694.28V701.28 M577.88 694.28H581.47 M577.88 701.28H581.47M580.89 694.36V701.36 M579.09 694.36H582.69 M579.09 701.36H582.69M582.11 694.43V701.43 M580.31 694.43H583.91 M580.31 701.43H583.91M583.33 694.5V701.5 M581.53 694.5H585.13 M581.53 701.5H585.13M584.55 694.55V701.55 M582.75 694.55H586.35 M582.75 701.55H586.35M585.77 694.6V701.6 M583.97 694.6H587.57 M583.97 701.6H587.57M586.99 694.64V701.64 M585.19 694.64H588.79 M585.19 701.64H588.79M588.21 694.68V701.68 M586.41 694.68H590.01 M586.41 701.68H590.01M589.42 694.71V701.71 M587.62 694.71H591.22 M587.62 701.71H591.22M590.64 694.74V701.74 M588.84 694.74H592.44 M588.84 701.74H592.44M591.86 694.76V701.76 M590.06 694.76H593.66 M590.06 701.76H593.66M593.08 694.78V701.78 M591.28 694.78H594.88 M591.28 701.78H594.88M594.3 694.8V701.8 M592.5 694.8H596.1 M592.5 701.8H596.1M610.5 695.7V702.7 M608.7 695.7H612.3 M608.7 702.7H612.3M611.71 695.72V702.72 M609.91 695.72H613.51 M609.91 702.72H613.51M612.92 695.73V702.73 M611.12 695.73H614.72 M611.12 702.73H614.72M614.12 695.74V702.74 M612.32 695.74H615.92 M612.32 702.74H615.92M615.33 695.76V702.76 M613.53 695.76H617.13 M613.53 702.76H617.13M616.54 695.76V702.76 M614.74 695.76H618.34 M614.74 702.76H618.34M617.75 695.77V702.77 M615.95 695.77H619.55 M615.95 702.77H619.55M618.95 695.78V702.78 M617.15 695.78H620.75 M617.15 702.78H620.75M620.16 695.78V702.78 M618.36 695.78H621.96 M618.36 702.78H621.96M621.37 695.79V702.79 M619.57 695.79H623.17 M619.57 702.79H623.17M622.58 695.79V702.79 M620.78 695.79H624.38 M620.78 702.79H624.38M623.78 695.8V702.8 M621.98 695.8H625.58 M621.98 702.8H625.58M624.99 695.8V702.8 M623.19 695.8H626.79 M623.19 702.8H626.79M626.2 695.8V702.8 M624.4 695.8H628 M624.4 702.8H628M642.4 695.1V702.1 M640.6 695.1H644.2 M640.6 702.1H644.2M643.68 695.24V702.24 M641.88 695.24H645.48 M641.88 702.24H645.48M644.96 695.36V702.36 M643.16 695.36H646.76 M643.16 702.36H646.76M646.25 695.46V702.46 M644.45 695.46H648.05 M644.45 702.46H648.05M647.53 695.54V702.54 M645.73 695.54H649.33 M645.73 702.54H649.33M648.81 695.6V702.6 M647.01 695.6H650.61 M647.01 702.6H650.61M650.09 695.65V702.65 M648.29 695.65H651.89 M648.29 702.65H651.89M651.37 695.69V702.69 M649.57 695.69H653.17 M649.57 702.69H653.17M652.65 695.73V702.73 M650.85 695.73H654.45 M650.85 702.73H654.45M653.94 695.76V702.76 M652.14 695.76H655.74 M652.14 702.76H655.74M655.22 695.78V702.78 M653.42 695.78H657.02 M653.42 702.78H657.02M656.5 695.8V702.8 M654.7 695.8H658.3 M654.7 702.8H658.3" stroke="#151515" stroke-width="1.3" fill="none"/>
<path d="M291.6 660 L294.9 562.6 L295.2 559.6 L296.3 579.58 L304.6 597.7 L308 650 L309.25 651.99 L310.49 653.67 L311.74 655.08 L312.98 656.28 L314.23 657.28 L315.48 658.13 L316.72 658.84 L317.97 659.45 L319.22 659.95 L320.46 660.38 L321.71 660.74 L322.95 661.04 L324.2 661.3L324.6 661.3 L327.1 589.8 L327.4 586.8 L328.5 608.75 L336.8 619.1 L340.2 664.1 L341.49 665.63 L342.78 666.93 L344.08 668.01 L345.37 668.93 L346.66 669.71 L347.95 670.36 L349.25 670.91 L350.54 671.37 L351.83 671.76 L353.12 672.09 L354.42 672.37 L355.71 672.6 L357 672.8L357 672.8 L359.3 607.6 L359.6 604.6 L360.7 622.54 L369 631 L372.4 669.9 L373.65 671.56 L374.89 672.95 L376.14 674.13 L377.38 675.12 L378.63 675.96 L379.88 676.66 L381.12 677.26 L382.37 677.76 L383.62 678.18 L384.86 678.53 L386.11 678.83 L387.35 679.09 L388.6 679.3L389 679.3 L391.7 624.9 L392 621.9 L393.1 635.98 L401.4 641.2 L404.8 679.5 L406.06 680.17 L407.32 680.73 L408.58 681.21 L409.85 681.61 L411.11 681.95 L412.37 682.23 L413.63 682.47 L414.89 682.68 L416.15 682.85 L417.42 682.99 L418.68 683.11 L419.94 683.21 L421.2 683.3L421.6 683.3 L424.4 633.4 L424.7 630.4 L425.8 647.33 L434.1 651.2 L437.5 684.9 L438.74 685.41 L439.98 685.84 L441.22 686.2 L442.45 686.51 L443.69 686.77 L444.93 686.99 L446.17 687.17 L447.41 687.32 L448.65 687.45 L449.88 687.56 L451.12 687.66 L452.36 687.73 L453.6 687.8L453.8 687.8 L456.3 640.9 L456.6 637.9 L457.7 654.2 L466 657.2 L469.4 687.2 L470.63 687.71 L471.86 688.15 L473.09 688.52 L474.31 688.83 L475.54 689.1 L476.77 689.34 L478 689.53 L479.23 689.7 L480.46 689.84 L481.69 689.97 L482.91 690.07 L484.14 690.16 L485.37 690.24 L486.6 690.3L486.8 690.3 L489.4 648 L489.7 645 L490.8 658.3 L499.1 661.3 L502.5 691.6 L503.77 691.85 L505.04 692.06 L506.31 692.25 L507.57 692.41 L508.84 692.55 L510.11 692.68 L511.38 692.79 L512.65 692.88 L513.92 692.96 L515.19 693.03 L516.46 693.09 L517.72 693.15 L518.99 693.19 L520.26 693.23 L521.53 693.27 L522.8 693.3L523 693.3 L525.4 654.1 L525.7 651.1 L526.8 666.4 L535.1 669.4 L538.5 695.5 L539.78 695.62 L541.06 695.72 L542.34 695.81 L543.62 695.88 L544.91 695.95 L546.19 696.01 L547.47 696.06 L548.75 696.1 L550.03 696.14 L551.31 696.17 L552.59 696.2 L553.88 696.23 L555.16 696.25 L556.44 696.27 L557.72 696.29 L559 696.3L559.2 696.3 L561.7 662.3 L562 659.3 L563.1 671 L571.4 674 L574.8 697.3 L576.02 697.45 L577.24 697.57 L578.46 697.68 L579.67 697.78 L580.89 697.86 L582.11 697.93 L583.33 698 L584.55 698.05 L585.77 698.1 L586.99 698.14 L588.21 698.18 L589.42 698.21 L590.64 698.24 L591.86 698.26 L593.08 698.28 L594.3 698.3L594.5 698.3 L597.4 667.3 L597.7 664.3 L598.8 675.5 L607.1 678.5 L610.5 699.2 L611.71 699.22 L612.92 699.23 L614.12 699.24 L615.33 699.26 L616.54 699.26 L617.75 699.27 L618.95 699.28 L620.16 699.28 L621.37 699.29 L622.58 699.29 L623.78 699.3 L624.99 699.3 L626.2 699.3L626.4 699.3 L629.3 672.6 L629.6 669.6 L630.7 678.3 L639 681.3 L642.4 698.6 L643.68 698.74 L644.96 698.86 L646.25 698.96 L647.53 699.04 L648.81 699.1 L650.09 699.15 L651.37 699.19 L652.65 699.23 L653.94 699.26 L655.22 699.28 L656.5 699.3" stroke="#111" stroke-width="3.2" fill="none" stroke-linejoin="round"/>
<path d="M308 647.5L310.7 652.5L305.3 652.5ZM309.25 649.49L311.95 654.49L306.55 654.49ZM310.49 651.17L313.19 656.16L307.79 656.16ZM311.74 652.58L314.44 657.58L309.04 657.58ZM312.98 653.78L315.68 658.77L310.28 658.77ZM314.23 654.78L316.93 659.78L311.53 659.78ZM315.48 655.63L318.18 660.62L312.78 660.62ZM316.72 656.34L319.42 661.34L314.02 661.34ZM317.97 656.95L320.67 661.94L315.27 661.94ZM319.22 657.45L321.92 662.45L316.52 662.45ZM320.46 657.88L323.16 662.87L317.76 662.87ZM321.71 658.24L324.41 663.24L319.01 663.24ZM322.95 658.54L325.65 663.54L320.25 663.54ZM324.2 658.8L326.9 663.79L321.5 663.79ZM292.68 626.98L295.58 632.35L289.78 632.35ZM293.83 594.85L296.73 600.22L290.93 600.22ZM295.4 556.2L299.4 563.6L291.4 563.6ZM295.65 562.09L299.35 568.94L291.95 568.94ZM295.87 566.49L299.97 574.07L291.77 574.07ZM296.08 570.68L300.78 579.38L291.38 579.38ZM296.3 574.68L301.8 584.86L290.8 584.86ZM299 583.06L302.9 590.27L295.1 590.27ZM301.8 589.33L305.7 596.54L297.9 596.54ZM304.6 595.6L308.5 602.82L300.7 602.82ZM305.55 606.21L308.55 611.76L302.55 611.76ZM306.33 618.24L309.33 623.78L303.33 623.78ZM307.11 630.26L310.11 635.81L304.11 635.81ZM307.79 640.72L310.79 646.27L304.79 646.27ZM340.2 661.6L342.9 666.6L337.5 666.6ZM341.49 663.13L344.19 668.13L338.79 668.13ZM342.78 664.43L345.48 669.42L340.08 669.42ZM344.08 665.51L346.78 670.51L341.38 670.51ZM345.37 666.43L348.07 671.43L342.67 671.43ZM346.66 667.21L349.36 672.2L343.96 672.2ZM347.95 667.86L350.65 672.85L345.25 672.85ZM349.25 668.41L351.95 673.4L346.55 673.4ZM350.54 668.87L353.24 673.87L347.84 673.87ZM351.83 669.26L354.53 674.26L349.13 674.26ZM353.12 669.59L355.82 674.59L350.42 674.59ZM354.42 669.87L357.12 674.86L351.72 674.86ZM355.71 670.1L358.41 675.1L353.01 675.1ZM357 670.3L359.7 675.29L354.3 675.29ZM325.44 636.05L328.34 641.41L322.54 641.41ZM326.34 612.21L329.24 617.57L323.44 617.57ZM327.6 583.4L331.6 590.8L323.6 590.8ZM327.85 589.85L331.55 596.69L324.15 596.69ZM328.07 594.71L332.17 602.3L323.97 602.3ZM328.28 599.38L332.98 608.08L323.58 608.08ZM328.5 603.85L334 614.02L323 614.02ZM331.2 609.89L335.1 617.11L327.3 617.11ZM334 613.45L337.9 620.66L330.1 620.66ZM336.8 617L340.7 624.22L332.9 624.22ZM337.75 626L340.75 631.55L334.75 631.55ZM338.53 636.35L341.53 641.9L335.53 641.9ZM339.31 646.7L342.31 652.25L336.31 652.25ZM339.99 655.7L342.99 661.25L336.99 661.25ZM372.4 667.4L375.1 672.39L369.7 672.39ZM373.65 669.06L376.35 674.05L370.95 674.05ZM374.89 670.45L377.59 675.45L372.19 675.45ZM376.14 671.63L378.84 676.62L373.44 676.62ZM377.38 672.62L380.08 677.62L374.68 677.62ZM378.63 673.46L381.33 678.45L375.93 678.45ZM379.88 674.16L382.58 679.16L377.18 679.16ZM381.12 674.76L383.82 679.75L378.42 679.75ZM382.37 675.26L385.07 680.25L379.67 680.25ZM383.62 675.68L386.32 680.67L380.92 680.67ZM384.86 676.03L387.56 681.03L382.16 681.03ZM386.11 676.33L388.81 681.33L383.41 681.33ZM387.35 676.59L390.05 681.58L384.65 681.58ZM388.6 676.8L391.3 681.79L385.9 681.79ZM357.78 649.44L360.68 654.8L354.88 654.8ZM358.61 627.62L361.51 632.98L355.71 632.98ZM359.8 601.2L363.8 608.6L355.8 608.6ZM360.05 606.52L363.75 613.37L356.35 613.37ZM360.27 610.43L364.37 618.01L356.17 618.01ZM360.48 614.13L365.18 622.83L355.78 622.83ZM360.7 617.64L366.2 627.81L355.2 627.81ZM363.4 623.12L367.3 630.33L359.5 630.33ZM366.2 626.01L370.1 633.22L362.3 633.22ZM369 628.9L372.9 636.12L365.1 636.12ZM369.95 636.56L372.95 642.11L366.95 642.11ZM370.73 645.5L373.73 651.05L367.73 651.05ZM371.51 654.45L374.51 660L368.51 660ZM372.19 662.23L375.19 667.78L369.19 667.78ZM404.8 677L407.5 682L402.1 682ZM406.06 677.67L408.76 682.66L403.36 682.66ZM407.32 678.23L410.02 683.23L404.62 683.23ZM408.58 678.71L411.28 683.7L405.88 683.7ZM409.85 679.11L412.55 684.11L407.15 684.11ZM411.11 679.45L413.81 684.44L408.41 684.44ZM412.37 679.73L415.07 684.73L409.67 684.73ZM413.63 679.97L416.33 684.97L410.93 684.97ZM414.89 680.18L417.59 685.17L412.19 685.17ZM416.15 680.35L418.85 685.34L413.45 685.34ZM417.42 680.49L420.12 685.49L414.72 685.49ZM418.68 680.61L421.38 685.61L415.98 685.61ZM419.94 680.71L422.64 685.71L417.24 685.71ZM421.2 680.8L423.9 685.79L418.5 685.79ZM389.9 659.18L392.8 664.54L387 664.54ZM390.86 640.81L393.76 646.18L387.96 646.18ZM392.2 618.5L396.2 625.9L388.2 625.9ZM392.45 622.74L396.15 629.59L388.75 629.59ZM392.67 625.72L396.77 633.31L388.57 633.31ZM392.88 628.5L397.58 637.2L388.18 637.2ZM393.1 631.08L398.6 641.25L387.6 641.25ZM395.8 635.59L399.7 642.8L391.9 642.8ZM398.6 637.34L402.5 644.56L394.7 644.56ZM401.4 639.1L405.3 646.32L397.5 646.32ZM402.35 646.63L405.35 652.18L399.35 652.18ZM403.13 655.44L406.13 660.99L400.13 660.99ZM403.91 664.24L406.91 669.79L400.91 669.79ZM404.59 671.9L407.59 677.45L401.59 677.45ZM437.5 682.4L440.2 687.39L434.8 687.39ZM438.74 682.91L441.44 687.91L436.04 687.91ZM439.98 683.34L442.68 688.34L437.28 688.34ZM441.22 683.7L443.92 688.7L438.52 688.7ZM442.45 684.01L445.15 689.01L439.75 689.01ZM443.69 684.27L446.39 689.26L440.99 689.26ZM444.93 684.49L447.63 689.48L442.23 689.48ZM446.17 684.67L448.87 689.66L443.47 689.66ZM447.41 684.82L450.11 689.82L444.71 689.82ZM448.65 684.95L451.35 689.95L445.95 689.95ZM449.88 685.06L452.58 690.06L447.18 690.06ZM451.12 685.16L453.82 690.15L448.42 690.15ZM452.36 685.23L455.06 690.23L449.66 690.23ZM453.6 685.3L456.3 690.29L450.9 690.29ZM422.53 664.53L425.43 669.89L419.63 669.89ZM423.52 647.6L426.42 652.97L420.62 652.97ZM424.9 627L428.9 634.4L420.9 634.4ZM425.15 632.04L428.85 638.89L421.45 638.89ZM425.37 635.7L429.47 643.29L421.27 643.29ZM425.58 639.17L430.28 647.86L420.88 647.86ZM425.8 642.43L431.3 652.61L420.3 652.61ZM428.5 646.53L432.4 653.75L424.6 653.75ZM431.3 647.82L435.2 655.03L427.4 655.03ZM434.1 649.1L438 656.32L430.2 656.32ZM435.05 655.61L438.05 661.16L432.05 661.16ZM435.83 663.37L438.83 668.91L432.83 668.91ZM436.61 671.12L439.61 676.67L433.61 676.67ZM437.29 677.86L440.29 683.41L434.29 683.41ZM469.4 684.7L472.1 689.7L466.7 689.7ZM470.63 685.21L473.33 690.21L467.93 690.21ZM471.86 685.65L474.56 690.64L469.16 690.64ZM473.09 686.02L475.79 691.01L470.39 691.01ZM474.31 686.33L477.01 691.33L471.61 691.33ZM475.54 686.6L478.24 691.6L472.84 691.6ZM476.77 686.84L479.47 691.83L474.07 691.83ZM478 687.03L480.7 692.03L475.3 692.03ZM479.23 687.2L481.93 692.2L476.53 692.2ZM480.46 687.34L483.16 692.34L477.76 692.34ZM481.69 687.47L484.39 692.46L478.99 692.46ZM482.91 687.57L485.61 692.57L480.21 692.57ZM484.14 687.66L486.84 692.65L481.44 692.65ZM485.37 687.74L488.07 692.73L482.67 692.73ZM486.6 687.8L489.3 692.79L483.9 692.79ZM454.64 669.93L457.54 675.29L451.74 675.29ZM455.54 653.96L458.44 659.33L452.64 659.33ZM456.8 634.5L460.8 641.9L452.8 641.9ZM457.05 639.36L460.75 646.21L453.35 646.21ZM457.27 642.88L461.37 650.46L453.17 650.46ZM457.48 646.19L462.18 654.88L452.78 654.88ZM457.7 649.3L463.2 659.48L452.2 659.48ZM460.4 653.14L464.3 660.36L456.5 660.36ZM463.2 654.12L467.1 661.34L459.3 661.34ZM466 655.1L469.9 662.32L462.1 662.32ZM466.95 660.8L469.95 666.35L463.95 666.35ZM467.73 667.7L470.73 673.25L464.73 673.25ZM468.51 674.6L471.51 680.15L465.51 680.15ZM469.19 680.6L472.19 686.15L466.19 686.15ZM502.5 689.1L505.2 694.1L499.8 694.1ZM503.77 689.35L506.47 694.34L501.07 694.34ZM505.04 689.56L507.74 694.56L502.34 694.56ZM506.31 689.75L509.01 694.74L503.61 694.74ZM507.57 689.91L510.27 694.91L504.87 694.91ZM508.84 690.05L511.54 695.05L506.14 695.05ZM510.11 690.18L512.81 695.17L507.41 695.17ZM511.38 690.29L514.08 695.28L508.68 695.28ZM512.65 690.38L515.35 695.37L509.95 695.37ZM513.92 690.46L516.62 695.46L511.22 695.46ZM515.19 690.53L517.89 695.53L512.49 695.53ZM516.46 690.59L519.16 695.59L513.76 695.59ZM517.72 690.65L520.42 695.64L515.02 695.64ZM518.99 690.69L521.69 695.69L516.29 695.69ZM520.26 690.73L522.96 695.73L517.56 695.73ZM521.53 690.77L524.23 695.76L518.83 695.76ZM522.8 690.8L525.5 695.79L520.1 695.79ZM487.67 673.81L490.57 679.17L484.77 679.17ZM488.6 659.31L491.5 664.68L485.7 664.68ZM489.9 641.6L493.9 649L485.9 649ZM490.15 645.62L493.85 652.47L486.45 652.47ZM490.37 648.42L494.47 656L486.27 656ZM490.58 651.01L495.28 659.7L485.88 659.7ZM490.8 653.4L496.3 663.57L485.3 663.57ZM493.5 657.24L497.4 664.46L489.6 664.46ZM496.3 658.22L500.2 665.44L492.4 665.44ZM499.1 659.2L503 666.41L495.2 666.41ZM500.05 664.97L503.05 670.52L497.05 670.52ZM500.83 671.93L503.83 677.48L497.83 677.48ZM501.61 678.9L504.61 684.45L498.61 684.45ZM502.29 684.96L505.29 690.51L499.29 690.51ZM538.5 693L541.2 698L535.8 698ZM539.78 693.12L542.48 698.11L537.08 698.11ZM541.06 693.22L543.76 698.21L538.36 698.21ZM542.34 693.31L545.04 698.3L539.64 698.3ZM543.62 693.38L546.33 698.38L540.92 698.38ZM544.91 693.45L547.61 698.44L542.21 698.44ZM546.19 693.51L548.89 698.5L543.49 698.5ZM547.47 693.56L550.17 698.55L544.77 698.55ZM548.75 693.6L551.45 698.6L546.05 698.6ZM550.03 693.64L552.73 698.64L547.33 698.64ZM551.31 693.67L554.01 698.67L548.61 698.67ZM552.59 693.7L555.29 698.7L549.89 698.7ZM553.88 693.73L556.58 698.72L551.17 698.72ZM555.16 693.75L557.86 698.74L552.46 698.74ZM556.44 693.77L559.14 698.76L553.74 698.76ZM557.72 693.79L560.42 698.78L555.02 698.78ZM559 693.8L561.7 698.79L556.3 698.79ZM523.81 677.74L526.71 683.11L520.91 683.11ZM524.67 664.24L527.57 669.6L521.77 669.6ZM525.9 647.7L529.9 655.1L521.9 655.1ZM526.15 652.28L529.85 659.13L522.45 659.13ZM526.37 655.56L530.47 663.14L522.27 663.14ZM526.58 658.63L531.28 667.32L521.88 667.32ZM526.8 661.5L532.3 671.67L521.3 671.67ZM529.5 665.34L533.4 672.56L525.6 672.56ZM532.3 666.32L536.2 673.54L528.4 673.54ZM535.1 667.3L539 674.51L531.2 674.51ZM536.05 672.14L539.05 677.69L533.05 677.69ZM536.83 678.14L539.83 683.69L533.83 683.69ZM537.61 684.15L540.61 689.7L534.61 689.7ZM538.29 689.37L541.29 694.92L535.29 694.92ZM574.8 694.8L577.5 699.79L572.1 699.79ZM576.02 694.95L578.72 699.94L573.32 699.94ZM577.24 695.07L579.94 700.07L574.54 700.07ZM578.46 695.18L581.16 700.18L575.76 700.18ZM579.67 695.28L582.38 700.27L576.97 700.27ZM580.89 695.36L583.59 700.36L578.19 700.36ZM582.11 695.43L584.81 700.43L579.41 700.43ZM583.33 695.5L586.03 700.49L580.63 700.49ZM584.55 695.55L587.25 700.55L581.85 700.55ZM585.77 695.6L588.47 700.6L583.07 700.6ZM586.99 695.64L589.69 700.64L584.29 700.64ZM588.21 695.68L590.91 700.67L585.51 700.67ZM589.42 695.71L592.12 700.7L586.72 700.7ZM590.64 695.74L593.34 700.73L587.94 700.73ZM591.86 695.76L594.56 700.76L589.16 700.76ZM593.08 695.78L595.78 700.78L590.38 700.78ZM594.3 695.8L597 700.79L591.6 700.79ZM560.04 682.3L562.94 687.66L557.14 687.66ZM560.94 670.46L563.84 675.82L558.04 675.82ZM562.2 655.9L566.2 663.3L558.2 663.3ZM562.45 659.48L566.15 666.32L558.75 666.32ZM562.67 661.88L566.77 669.47L558.57 669.47ZM562.88 664.09L567.58 672.79L558.18 672.79ZM563.1 666.1L568.6 676.27L557.6 676.27ZM565.8 669.94L569.7 677.16L561.9 677.16ZM568.6 670.92L572.5 678.14L564.7 678.14ZM571.4 671.9L575.3 679.12L567.5 679.12ZM572.35 676.13L575.35 681.68L569.35 681.68ZM573.13 681.49L576.13 687.03L570.13 687.03ZM573.91 686.84L576.91 692.39L570.91 692.39ZM574.59 691.5L577.59 697.05L571.59 697.05ZM610.5 696.7L613.2 701.7L607.8 701.7ZM611.71 696.72L614.41 701.71L609.01 701.71ZM612.92 696.73L615.62 701.73L610.22 701.73ZM614.12 696.74L616.82 701.74L611.42 701.74ZM615.33 696.76L618.03 701.75L612.63 701.75ZM616.54 696.76L619.24 701.76L613.84 701.76ZM617.75 696.77L620.45 701.77L615.05 701.77ZM618.95 696.78L621.65 701.77L616.25 701.77ZM620.16 696.78L622.86 701.78L617.46 701.78ZM621.37 696.79L624.07 701.78L618.67 701.78ZM622.58 696.79L625.28 701.79L619.88 701.79ZM623.78 696.8L626.48 701.79L621.08 701.79ZM624.99 696.8L627.69 701.79L622.29 701.79ZM626.2 696.8L628.9 701.79L623.5 701.79ZM595.46 685.2L598.36 690.56L592.56 690.56ZM596.48 674.32L599.38 679.68L593.58 679.68ZM597.9 660.9L601.9 668.3L593.9 668.3ZM598.15 664.34L601.85 671.18L594.45 671.18ZM598.37 666.62L602.47 674.21L594.27 674.21ZM598.58 668.71L603.28 677.41L593.88 677.41ZM598.8 670.6L604.3 680.77L593.3 680.77ZM601.5 674.44L605.4 681.66L597.6 681.66ZM604.3 675.42L608.2 682.64L600.4 682.64ZM607.1 676.4L611 683.62L603.2 683.62ZM608.05 680.05L611.05 685.6L605.05 685.6ZM608.83 684.82L611.83 690.37L605.83 690.37ZM609.61 689.58L612.61 695.13L606.61 695.13ZM610.29 693.72L613.29 699.27L607.29 699.27ZM642.4 696.1L645.1 701.1L639.7 701.1ZM643.68 696.24L646.38 701.24L640.98 701.24ZM644.96 696.36L647.66 701.36L642.26 701.36ZM646.25 696.46L648.95 701.45L643.55 701.45ZM647.53 696.54L650.23 701.53L644.83 701.53ZM648.81 696.6L651.51 701.59L646.11 701.59ZM650.09 696.65L652.79 701.65L647.39 701.65ZM651.37 696.69L654.07 701.69L648.67 701.69ZM652.65 696.73L655.35 701.72L649.95 701.72ZM653.94 696.76L656.64 701.75L651.24 701.75ZM655.22 696.78L657.92 701.78L652.52 701.78ZM656.5 696.8L659.2 701.79L653.8 701.79ZM627.36 687.49L630.26 692.86L624.46 692.86ZM628.38 677.99L631.28 683.35L625.48 683.35ZM629.8 666.2L633.8 673.6L625.8 673.6ZM630.05 668.94L633.75 675.78L626.35 675.78ZM630.27 670.62L634.37 678.21L626.17 678.21ZM630.48 672.11L635.18 680.81L625.78 680.81ZM630.7 673.4L636.2 683.57L625.2 683.57ZM633.4 677.24L637.3 684.46L629.5 684.46ZM636.2 678.22L640.1 685.44L632.3 685.44ZM639 679.2L642.9 686.41L635.1 686.41ZM639.95 682.11L642.95 687.66L636.95 687.66ZM640.73 686.09L643.73 691.63L637.73 691.63ZM641.51 690.06L644.51 695.61L638.51 695.61ZM642.19 693.52L645.19 699.07L639.19 699.07Z" stroke="none" stroke-width="0" fill="#111"/>
<path d="M295.2 555V559.6 M292.6 555H297.8 M292.6 559.6H297.8" stroke="#333" stroke-width="1" fill="none"/>
<path d="M327.4 582.2V586.8 M324.8 582.2H330 M324.8 586.8H330" stroke="#333" stroke-width="1" fill="none"/>
<path d="M359.6 600V604.6 M357 600H362.2 M357 604.6H362.2" stroke="#333" stroke-width="1" fill="none"/>
<path d="M392 617.3V621.9 M389.4 617.3H394.6 M389.4 621.9H394.6" stroke="#333" stroke-width="1" fill="none"/>
<path d="M424.7 625.8V630.4 M422.1 625.8H427.3 M422.1 630.4H427.3" stroke="#333" stroke-width="1" fill="none"/>
<path d="M456.6 633.3V637.9 M454 633.3H459.2 M454 637.9H459.2" stroke="#333" stroke-width="1" fill="none"/>
<path d="M489.7 640.4V645 M487.1 640.4H492.3 M487.1 645H492.3" stroke="#333" stroke-width="1" fill="none"/>
<path d="M525.7 646.5V651.1 M523.1 646.5H528.3 M523.1 651.1H528.3" stroke="#333" stroke-width="1" fill="none"/>
<path d="M562 654.7V659.3 M559.4 654.7H564.6 M559.4 659.3H564.6" stroke="#333" stroke-width="1" fill="none"/>
<path d="M597.7 659.7V664.3 M595.1 659.7H600.3 M595.1 664.3H600.3" stroke="#333" stroke-width="1" fill="none"/>
<path d="M629.6 665V669.6 M627 665H632.2 M627 669.6H632.2" stroke="#333" stroke-width="1" fill="none"/>
<text x="1" y="548.7" font-size="21" font-weight="bold" font-style="normal" fill="#111" text-anchor="start" stroke="#111" stroke-width="0.34">B</text>
<text x="31" y="555.6" font-size="18.6" font-weight="normal" font-style="normal" fill="#111" text-anchor="start" stroke="#111" stroke-width="0.22">a</text>
<text x="111" y="557.8" font-size="20.2" font-weight="normal" font-style="normal" fill="#111" text-anchor="start" stroke="#111" stroke-width="0.22">[Ca<tspan font-size="10.8" dx="1.4" dy="-8.8">2+</tspan><tspan dx="1.6" dy="8.8">]</tspan><tspan font-size="19" dx="1" dy="6.2">c</tspan></text>
<text x="188.2" y="611.5" font-size="18.5" font-weight="bold" font-style="normal" fill="#111" text-anchor="middle" transform="rotate(-90 188.2 611.5)" stroke="#111" stroke-width="0.34">Rhod-2</text>
<text transform="translate(210.2 611.5) rotate(-90) scale(1 1.08)" font-size="18.7" font-weight="bold" fill="#111" stroke="#111" stroke-width="0.34" text-anchor="middle">Fluorescence</text>
<text x="233.2" y="610.8" font-size="18.4" font-weight="bold" font-style="normal" fill="#111" text-anchor="middle" transform="rotate(-90 233.2 610.8)" stroke="#111" stroke-width="0.34">1 <tspan font-weight="normal">Δ</tspan><tspan letter-spacing="0.9">F/F</tspan><tspan font-size="9.2" dy="4.97">0</tspan></text>
<line x1="246.3" y1="660" x2="246.3" y2="574.8" stroke="#111" stroke-width="2.2" stroke-linecap="butt"/>
<path d="M246.3 565.7L252.5 578.7L246.3 575.06L240.1 578.7Z" stroke="none" stroke-width="0" fill="#111"/>
<text transform="translate(295.3 750.4) scale(1.32 1)" font-size="12.6" font-weight="bold" fill="#2e2e2e" text-anchor="middle">H</text>
<text transform="translate(328.3 750.4) scale(1.32 1)" font-size="12.6" font-weight="bold" fill="#2e2e2e" text-anchor="middle">H</text>
<text transform="translate(360.4 750.4) scale(1.32 1)" font-size="12.6" font-weight="bold" fill="#2e2e2e" text-anchor="middle">H</text>
<text transform="translate(393.1 750.4) scale(1.32 1)" font-size="12.6" font-weight="bold" fill="#2e2e2e" text-anchor="middle">H</text>
<text transform="translate(426.1 750.4) scale(1.32 1)" font-size="12.6" font-weight="bold" fill="#2e2e2e" text-anchor="middle">H</text>
<text transform="translate(459.1 750.4) scale(1.32 1)" font-size="12.6" font-weight="bold" fill="#2e2e2e" text-anchor="middle">H</text>
<text transform="translate(490.9 750.4) scale(1.32 1)" font-size="12.6" font-weight="bold" fill="#2e2e2e" text-anchor="middle">H</text>
<text transform="translate(527.1 750.4) scale(1.32 1)" font-size="12.6" font-weight="bold" fill="#2e2e2e" text-anchor="middle">H</text>
<text transform="translate(563.3 750.4) scale(1.32 1)" font-size="12.6" font-weight="bold" fill="#2e2e2e" text-anchor="middle">H</text>
<text transform="translate(599.5 750.4) scale(1.32 1)" font-size="12.6" font-weight="bold" fill="#2e2e2e" text-anchor="middle">H</text>
<text transform="translate(632.2 750.4) scale(1.32 1)" font-size="12.6" font-weight="bold" fill="#2e2e2e" text-anchor="middle">H</text>
<text x="380.4" y="776.6" font-size="21.2" font-weight="normal" font-style="italic" fill="#111" text-anchor="start" word-spacing="2.2" stroke="#111" stroke-width="0.22">Histamine 100 <tspan font-style="normal" font-family="'Liberation Serif', serif">µ</tspan>M</text>
<line x1="598.7" y1="767.9" x2="639.72" y2="767.9" stroke="#111" stroke-width="2.3" stroke-linecap="butt"/>
<path d="M649.1 767.9L635.7 762.6L639.45 767.9L635.7 773.2Z" stroke="none" stroke-width="0" fill="#111"/>
<text x="624.6" y="792" font-size="19.3" font-weight="bold" font-style="normal" fill="#111" text-anchor="middle" stroke="#111" stroke-width="0.34">200 s</text>
<text x="484" y="636.2" font-size="23.05" font-weight="bold" font-style="normal" fill="#9a9a9a" text-anchor="start" stroke="#9a9a9a" stroke-width="0.34">Scrambled siRNA</text>
<text x="530.4" y="724.4" font-size="23.15" font-weight="bold" font-style="normal" fill="#111" text-anchor="start" stroke="#111" stroke-width="0.34">OPA1 siRNA</text>
<rect x="145.2" y="877.4" width="27.9" height="102.4" fill="#9e9e9e" stroke="#404040" stroke-width="1.2"/>
<path d="M159.15 871.4V882.3 M154.4 871.4H163.9 M154.4 882.3H163.9" stroke="#2a2a2a" stroke-width="1.2" fill="none"/>
<rect x="180.7" y="844.9" width="29" height="134.9" fill="#161616"/>
<path d="M195.2 836.7V844.9 M190.2 836.7H200.2" stroke="#2a2a2a" stroke-width="1.3" fill="none"/>
<rect x="253.7" y="932.3" width="27.7" height="47.5" fill="#9e9e9e" stroke="#404040" stroke-width="1.2"/>
<path d="M267.55 926.8V936.6 M262.8 926.8H272.3 M262.8 936.6H272.3" stroke="#2a2a2a" stroke-width="1.2" fill="none"/>
<rect x="288.5" y="914.6" width="29.6" height="65.2" fill="#161616"/>
<path d="M303.3 907.5V914.6 M298.3 907.5H308.3" stroke="#2a2a2a" stroke-width="1.3" fill="none"/>
<line x1="138" y1="833.4" x2="138" y2="980.8" stroke="#111" stroke-width="1.9" stroke-linecap="butt"/>
<line x1="134.8" y1="979.9" x2="326.2" y2="979.9" stroke="#111" stroke-width="1.9" stroke-linecap="butt"/>
<line x1="134.8" y1="878" x2="138" y2="878" stroke="#111" stroke-width="1.3" stroke-linecap="butt"/>
<line x1="134.8" y1="928.9" x2="138" y2="928.9" stroke="#111" stroke-width="1.3" stroke-linecap="butt"/>
<text x="129" y="885" font-size="19.6" font-weight="normal" font-style="normal" fill="#1c1c1c" text-anchor="end" stroke="#1c1c1c" stroke-width="0.22">0.8</text>
<text x="129" y="935.9" font-size="19.6" font-weight="normal" font-style="normal" fill="#1c1c1c" text-anchor="end" stroke="#1c1c1c" stroke-width="0.22">0.4</text>
<text x="129" y="987.2" font-size="19.6" font-weight="normal" font-style="normal" fill="#1c1c1c" text-anchor="end" stroke="#1c1c1c" stroke-width="0.22">0</text>
<text x="196.8" y="838" font-size="16" font-weight="bold" font-style="normal" fill="#222" text-anchor="middle" letter-spacing="2.0" stroke="#222" stroke-width="0.34">**</text>
<text x="302.6" y="910" font-size="16" font-weight="bold" font-style="normal" fill="#222" text-anchor="middle" stroke="#222" stroke-width="0.34">*</text>
<rect x="221" y="839.8" width="13.5" height="13.5" fill="#161616"/>
<rect x="221.65" y="860.8" width="12.2" height="12.2" fill="#9e9e9e" stroke="#404040" stroke-width="1.3"/>
<text x="242.4" y="852.9" font-size="18.95" font-weight="bold" font-style="normal" fill="#111" text-anchor="start" stroke="#111" stroke-width="0.34">OPA1</text>
<text x="242.4" y="873.3" font-size="19.1" font-weight="bold" font-style="normal" fill="#111" text-anchor="start" stroke="#111" stroke-width="0.34">Scrambled</text>
<text x="176.4" y="1004.4" font-size="20.2" font-weight="bold" font-style="normal" fill="#111" text-anchor="middle" stroke="#111" stroke-width="0.34">First</text>
<text x="176" y="1025.8" font-size="20.2" font-weight="bold" font-style="normal" fill="#111" text-anchor="middle" stroke="#111" stroke-width="0.34">stimulus</text>
<text x="291.7" y="1005" font-size="20.6" font-weight="bold" font-style="normal" fill="#111" text-anchor="middle" stroke="#111" stroke-width="0.34">All following</text>
<text x="290.9" y="1026" font-size="20.2" font-weight="bold" font-style="normal" fill="#111" text-anchor="middle" stroke="#111" stroke-width="0.34">stimuli</text>
<text x="42.2" y="909.7" font-size="19.2" font-weight="bold" font-style="normal" fill="#111" text-anchor="middle" transform="rotate(-90 42.2 909.7)" stroke="#111" stroke-width="0.34">Amplitude</text>
<text x="62.6" y="909.2" font-size="19.2" font-weight="bold" font-style="normal" fill="#111" text-anchor="middle" transform="rotate(-90 62.6 909.2)" stroke="#111" stroke-width="0.34">of Response</text>
<text x="90" y="908.8" font-size="21.8" font-weight="bold" font-style="normal" fill="#111" text-anchor="middle" transform="rotate(-90 90 908.8)" stroke="#111" stroke-width="0.34"><tspan font-weight="bold">(</tspan><tspan font-weight="normal">Δ</tspan>F/F<tspan font-size="10.9" dy="5.45">0</tspan><tspan dy="-5.45" font-weight="bold">)</tspan></text>
<text x="31.6" y="837.8" font-size="17.6" font-weight="normal" font-style="normal" fill="#111" text-anchor="start" stroke="#111" stroke-width="0.22">b</text>
<rect x="508.7" y="898.2" width="7.6" height="106.9" fill="#9e9e9e" stroke="#404040" stroke-width="1.2"/>
<path d="M512.5 887.4V907.3 M510.7 887.4H514.3 M510.7 907.3H514.3" stroke="#2a2a2a" stroke-width="0.9" fill="none"/>
<rect x="518.8" y="842.3" width="8.6" height="162.8" fill="#161616"/>
<path d="M523.1 829.6V842.3 M521.3 829.6H524.9" stroke="#2a2a2a" stroke-width="0.9" fill="none"/>
<rect x="529.6" y="907.9" width="7.8" height="97.2" fill="#9e9e9e" stroke="#404040" stroke-width="1.2"/>
<path d="M533.5 898.4V916.7 M531.7 898.4H535.3 M531.7 916.7H535.3" stroke="#2a2a2a" stroke-width="0.9" fill="none"/>
<rect x="540" y="872.1" width="8.7" height="133" fill="#161616"/>
<path d="M544.35 861.2V872.1 M542.55 861.2H546.15" stroke="#2a2a2a" stroke-width="0.9" fill="none"/>
<rect x="551.2" y="914.8" width="7.4" height="90.3" fill="#9e9e9e" stroke="#404040" stroke-width="1.2"/>
<path d="M554.9 907.3V921 M553.1 907.3H556.7 M553.1 921H556.7" stroke="#2a2a2a" stroke-width="0.9" fill="none"/>
<rect x="561.2" y="892.5" width="8.4" height="112.6" fill="#161616"/>
<path d="M565.4 883.8V892.5 M563.6 883.8H567.2" stroke="#2a2a2a" stroke-width="0.9" fill="none"/>
<rect x="571.9" y="917.3" width="7.7" height="87.8" fill="#9e9e9e" stroke="#404040" stroke-width="1.2"/>
<path d="M575.75 911.1V923.1 M573.95 911.1H577.55 M573.95 923.1H577.55" stroke="#2a2a2a" stroke-width="0.9" fill="none"/>
<rect x="582" y="912.1" width="8.9" height="93" fill="#161616"/>
<path d="M586.45 904V912.1 M584.65 904H588.25" stroke="#2a2a2a" stroke-width="0.9" fill="none"/>
<rect x="593.5" y="933.1" width="7.3" height="72" fill="#9e9e9e" stroke="#404040" stroke-width="1.2"/>
<path d="M597.15 928.2V937.6 M595.35 928.2H598.95 M595.35 937.6H598.95" stroke="#2a2a2a" stroke-width="0.9" fill="none"/>
<rect x="603.4" y="922.3" width="8.6" height="82.8" fill="#161616"/>
<path d="M607.7 914.9V922.3 M605.9 914.9H609.5" stroke="#2a2a2a" stroke-width="0.9" fill="none"/>
<rect x="614.4" y="939" width="7.7" height="66.1" fill="#9e9e9e" stroke="#404040" stroke-width="1.2"/>
<path d="M618.25 934.5V942.7 M616.45 934.5H620.05 M616.45 942.7H620.05" stroke="#2a2a2a" stroke-width="0.9" fill="none"/>
<rect x="624.7" y="926.9" width="8.6" height="78.2" fill="#161616"/>
<path d="M629 919.3V926.9 M627.2 919.3H630.8" stroke="#2a2a2a" stroke-width="0.9" fill="none"/>
<rect x="635.8" y="944.1" width="7.5" height="61" fill="#9e9e9e" stroke="#404040" stroke-width="1.2"/>
<path d="M639.55 940.4V946.8 M637.75 940.4H641.35 M637.75 946.8H641.35" stroke="#2a2a2a" stroke-width="0.9" fill="none"/>
<rect x="645.7" y="936.6" width="8.9" height="68.5" fill="#161616"/>
<path d="M650.15 930V936.6 M648.35 930H651.95" stroke="#2a2a2a" stroke-width="0.9" fill="none"/>
<rect x="657" y="950.9" width="7.4" height="54.2" fill="#9e9e9e" stroke="#404040" stroke-width="1.2"/>
<path d="M660.7 947.8V953.1 M658.9 947.8H662.5 M658.9 953.1H662.5" stroke="#2a2a2a" stroke-width="0.9" fill="none"/>
<rect x="667" y="938.4" width="8.8" height="66.7" fill="#161616"/>
<path d="M671.4 931.5V938.4 M669.6 931.5H673.2" stroke="#2a2a2a" stroke-width="0.9" fill="none"/>
<rect x="678.1" y="955.5" width="7.5" height="49.6" fill="#9e9e9e" stroke="#404040" stroke-width="1.2"/>
<path d="M681.85 952.4V957.5 M680.05 952.4H683.65 M680.05 957.5H683.65" stroke="#2a2a2a" stroke-width="0.9" fill="none"/>
<rect x="688.2" y="943.5" width="8.7" height="61.6" fill="#161616"/>
<path d="M692.55 936.6V943.5 M690.75 936.6H694.35" stroke="#2a2a2a" stroke-width="0.9" fill="none"/>
<rect x="699.2" y="958.8" width="7.8" height="46.3" fill="#9e9e9e" stroke="#404040" stroke-width="1.2"/>
<path d="M703.1 955.7V960.8 M701.3 955.7H704.9 M701.3 960.8H704.9" stroke="#2a2a2a" stroke-width="0.9" fill="none"/>
<rect x="709.3" y="948.5" width="9" height="56.6" fill="#161616"/>
<path d="M713.8 942.2V948.5 M712 942.2H715.6" stroke="#2a2a2a" stroke-width="0.9" fill="none"/>
<rect x="720.8" y="962.6" width="7.4" height="42.5" fill="#9e9e9e" stroke="#404040" stroke-width="1.2"/>
<path d="M724.5 959.5V964.6 M722.7 959.5H726.3 M722.7 964.6H726.3" stroke="#2a2a2a" stroke-width="0.9" fill="none"/>
<rect x="730.7" y="954.1" width="8.7" height="51" fill="#161616"/>
<path d="M735.05 948.5V954.1 M733.25 948.5H736.85" stroke="#2a2a2a" stroke-width="0.9" fill="none"/>
<line x1="503" y1="822.5" x2="503" y2="1006.4" stroke="#111" stroke-width="2.6" stroke-linecap="butt"/>
<line x1="498.4" y1="1005.1" x2="743.2" y2="1005.1" stroke="#111" stroke-width="2.6" stroke-linecap="butt"/>
<line x1="499.9" y1="1000.75" x2="503" y2="1000.75" stroke="#111" stroke-width="1.6" stroke-linecap="butt"/>
<line x1="499.9" y1="996.39" x2="503" y2="996.39" stroke="#111" stroke-width="1.6" stroke-linecap="butt"/>
<line x1="499.9" y1="992.03" x2="503" y2="992.03" stroke="#111" stroke-width="1.6" stroke-linecap="butt"/>
<line x1="499.9" y1="987.68" x2="503" y2="987.68" stroke="#111" stroke-width="1.6" stroke-linecap="butt"/>
<line x1="499.9" y1="983.33" x2="503" y2="983.33" stroke="#111" stroke-width="1.6" stroke-linecap="butt"/>
<line x1="499.9" y1="978.97" x2="503" y2="978.97" stroke="#111" stroke-width="1.6" stroke-linecap="butt"/>
<line x1="499.9" y1="974.62" x2="503" y2="974.62" stroke="#111" stroke-width="1.6" stroke-linecap="butt"/>
<line x1="499.9" y1="970.26" x2="503" y2="970.26" stroke="#111" stroke-width="1.6" stroke-linecap="butt"/>
<line x1="499.9" y1="965.9" x2="503" y2="965.9" stroke="#111" stroke-width="1.6" stroke-linecap="butt"/>
<line x1="498.1" y1="961.55" x2="503" y2="961.55" stroke="#111" stroke-width="1.9" stroke-linecap="butt"/>
<line x1="499.9" y1="957.2" x2="503" y2="957.2" stroke="#111" stroke-width="1.6" stroke-linecap="butt"/>
<line x1="499.9" y1="952.84" x2="503" y2="952.84" stroke="#111" stroke-width="1.6" stroke-linecap="butt"/>
<line x1="499.9" y1="948.49" x2="503" y2="948.49" stroke="#111" stroke-width="1.6" stroke-linecap="butt"/>
<line x1="499.9" y1="944.13" x2="503" y2="944.13" stroke="#111" stroke-width="1.6" stroke-linecap="butt"/>
<line x1="499.9" y1="939.77" x2="503" y2="939.77" stroke="#111" stroke-width="1.6" stroke-linecap="butt"/>
<line x1="499.9" y1="935.42" x2="503" y2="935.42" stroke="#111" stroke-width="1.6" stroke-linecap="butt"/>
<line x1="499.9" y1="931.07" x2="503" y2="931.07" stroke="#111" stroke-width="1.6" stroke-linecap="butt"/>
<line x1="499.9" y1="926.71" x2="503" y2="926.71" stroke="#111" stroke-width="1.6" stroke-linecap="butt"/>
<line x1="499.9" y1="922.36" x2="503" y2="922.36" stroke="#111" stroke-width="1.6" stroke-linecap="butt"/>
<line x1="498.1" y1="918" x2="503" y2="918" stroke="#111" stroke-width="1.9" stroke-linecap="butt"/>
<line x1="499.9" y1="913.64" x2="503" y2="913.64" stroke="#111" stroke-width="1.6" stroke-linecap="butt"/>
<line x1="499.9" y1="909.29" x2="503" y2="909.29" stroke="#111" stroke-width="1.6" stroke-linecap="butt"/>
<line x1="499.9" y1="904.94" x2="503" y2="904.94" stroke="#111" stroke-width="1.6" stroke-linecap="butt"/>
<line x1="499.9" y1="900.58" x2="503" y2="900.58" stroke="#111" stroke-width="1.6" stroke-linecap="butt"/>
<line x1="499.9" y1="896.23" x2="503" y2="896.23" stroke="#111" stroke-width="1.6" stroke-linecap="butt"/>
<line x1="499.9" y1="891.87" x2="503" y2="891.87" stroke="#111" stroke-width="1.6" stroke-linecap="butt"/>
<line x1="499.9" y1="887.51" x2="503" y2="887.51" stroke="#111" stroke-width="1.6" stroke-linecap="butt"/>
<line x1="499.9" y1="883.16" x2="503" y2="883.16" stroke="#111" stroke-width="1.6" stroke-linecap="butt"/>
<line x1="499.9" y1="878.81" x2="503" y2="878.81" stroke="#111" stroke-width="1.6" stroke-linecap="butt"/>
<line x1="498.1" y1="874.45" x2="503" y2="874.45" stroke="#111" stroke-width="1.9" stroke-linecap="butt"/>
<line x1="499.9" y1="870.1" x2="503" y2="870.1" stroke="#111" stroke-width="1.6" stroke-linecap="butt"/>
<line x1="499.9" y1="865.74" x2="503" y2="865.74" stroke="#111" stroke-width="1.6" stroke-linecap="butt"/>
<line x1="499.9" y1="861.38" x2="503" y2="861.38" stroke="#111" stroke-width="1.6" stroke-linecap="butt"/>
<line x1="499.9" y1="857.03" x2="503" y2="857.03" stroke="#111" stroke-width="1.6" stroke-linecap="butt"/>
<line x1="499.9" y1="852.67" x2="503" y2="852.67" stroke="#111" stroke-width="1.6" stroke-linecap="butt"/>
<line x1="499.9" y1="848.32" x2="503" y2="848.32" stroke="#111" stroke-width="1.6" stroke-linecap="butt"/>
<line x1="499.9" y1="843.97" x2="503" y2="843.97" stroke="#111" stroke-width="1.6" stroke-linecap="butt"/>
<line x1="499.9" y1="839.61" x2="503" y2="839.61" stroke="#111" stroke-width="1.6" stroke-linecap="butt"/>
<line x1="499.9" y1="835.25" x2="503" y2="835.25" stroke="#111" stroke-width="1.6" stroke-linecap="butt"/>
<line x1="498.1" y1="830.9" x2="503" y2="830.9" stroke="#111" stroke-width="1.9" stroke-linecap="butt"/>
<line x1="499.9" y1="826.55" x2="503" y2="826.55" stroke="#111" stroke-width="1.6" stroke-linecap="butt"/>
<text x="492.2" y="837.63" font-size="18.8" font-weight="normal" font-style="normal" fill="#1c1c1c" text-anchor="end" stroke="#1c1c1c" stroke-width="0.22">0.024</text>
<text x="492.2" y="881.13" font-size="18.8" font-weight="normal" font-style="normal" fill="#1c1c1c" text-anchor="end" stroke="#1c1c1c" stroke-width="0.22">0.018</text>
<text x="492.2" y="924.73" font-size="18.8" font-weight="normal" font-style="normal" fill="#1c1c1c" text-anchor="end" stroke="#1c1c1c" stroke-width="0.22">0.012</text>
<text x="492.2" y="968.33" font-size="18.8" font-weight="normal" font-style="normal" fill="#1c1c1c" text-anchor="end" stroke="#1c1c1c" stroke-width="0.22">0.006</text>
<text x="492.6" y="1011.73" font-size="18.8" font-weight="normal" font-style="normal" fill="#1c1c1c" text-anchor="end" stroke="#1c1c1c" stroke-width="0.22">0</text>
<text x="409.4" y="914" font-size="18.9" font-weight="bold" font-style="normal" fill="#111" text-anchor="middle" transform="rotate(-90 409.4 914)" letter-spacing="0.12" stroke="#111" stroke-width="0.34">Decay Slope</text>
<text x="431" y="914" font-size="18.9" font-weight="bold" font-style="normal" fill="#111" text-anchor="middle" transform="rotate(-90 431 914)" letter-spacing="0.22" stroke="#111" stroke-width="0.34">(negative s<tspan font-size="12.47" dx="0.6" dy="-8.69">-1</tspan><tspan dx="-0.4" dy="8.69">)</tspan></text>
<text x="395.6" y="837.2" font-size="17.6" font-weight="normal" font-style="normal" fill="#111" text-anchor="start" stroke="#111" stroke-width="0.22">c</text>
<rect x="593.5" y="847.4" width="13.1" height="13.1" fill="#161616"/>
<rect x="594.2" y="869.4" width="11.7" height="12" fill="#9e9e9e" stroke="#404040" stroke-width="1.4"/>
<text x="615" y="859.6" font-size="18.8" font-weight="bold" font-style="normal" fill="#111" text-anchor="start" stroke="#111" stroke-width="0.34">OPA1</text>
<text x="671" y="860.9" font-size="16.4" font-weight="bold" font-style="normal" fill="#222" text-anchor="start" letter-spacing="2.0" stroke="#222" stroke-width="0.34">**</text>
<text x="615" y="881" font-size="19.1" font-weight="bold" font-style="normal" fill="#111" text-anchor="start" stroke="#111" stroke-width="0.34">Scrambled</text>
<text x="622.7" y="1029.8" font-size="22.35" font-weight="bold" font-style="normal" fill="#111" text-anchor="middle" stroke="#111" stroke-width="0.34">Histamine stimuli</text>
</g>
</svg></body></html>
